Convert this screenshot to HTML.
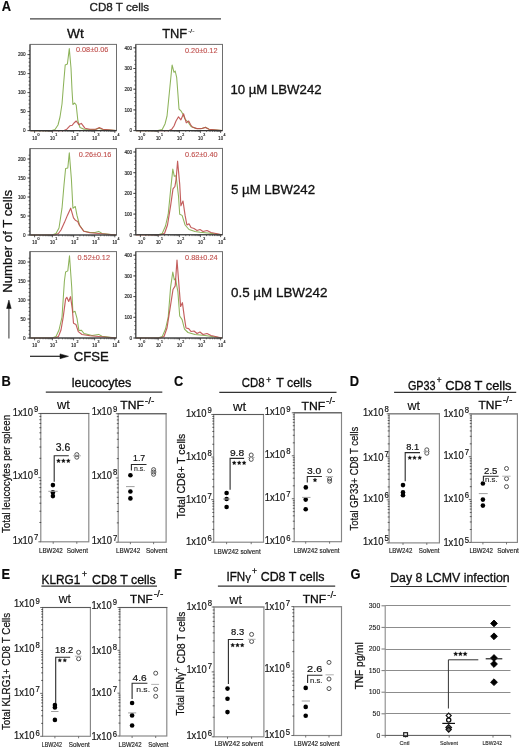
<!DOCTYPE html>
<html><head><meta charset="utf-8"><style>
html,body{margin:0;padding:0;background:#fff;}
svg{display:block;filter:blur(0.3px);}
text{font-family:"Liberation Sans",sans-serif;}
</style></head><body>
<svg width="520" height="748" viewBox="0 0 520 748">
<rect width="520" height="748" fill="#fff"/>
<text transform="translate(1.80 10.70) scale(0.9 1)" font-size="14.3" font-weight="bold" fill="#0a0a0a" stroke="#0a0a0a" stroke-width="0.15">A</text>
<text x="89.50" y="10.60" font-size="11.8" fill="#222" stroke="#222" stroke-width="0.32" textLength="59.7" lengthAdjust="spacingAndGlyphs">CD8 T cells</text>
<line x1="30.00" y1="18.90" x2="221.00" y2="18.90" stroke="#444" stroke-width="1.3"/>
<text x="67.00" y="37.50" font-size="13.3" fill="#111" stroke="#111" stroke-width="0.32" textLength="16.8" lengthAdjust="spacingAndGlyphs">Wt</text>
<text x="162.20" y="37.90" font-size="12.9" fill="#111" stroke="#111" stroke-width="0.32" textLength="25" lengthAdjust="spacingAndGlyphs">TNF</text>
<text x="188.20" y="33.40" font-size="5.5" fill="#111" stroke="#111" stroke-width="0.15" textLength="6.2" lengthAdjust="spacingAndGlyphs">-/-</text>
<polyline points="30.5,130.6 52.0,130.6 55.0,129.5 58.0,125.0 60.0,117.0 62.0,104.0 63.5,85.0 65.2,65.0 67.4,64.0 69.3,48.6 71.0,68.0 72.0,90.0 72.9,104.5 74.7,103.0 76.2,105.0 77.9,121.0 80.0,127.5 84.0,129.3 95.0,129.4 99.0,128.2 102.0,129.3 116.0,130.6" fill="none" stroke="#8db35a" stroke-width="1.05" stroke-linejoin="round" opacity="1"/>
<polyline points="30.5,130.6 64.0,130.6 66.8,129.2 69.9,125.8 72.3,125.2 74.0,123.0 76.2,121.0 78.9,124.6 81.3,123.4 84.9,128.2 90.0,129.3 96.0,129.2 99.3,127.6 103.0,129.3 116.0,130.6" fill="none" stroke="#bd4d4b" stroke-width="1.15" stroke-linejoin="round" opacity="0.9"/>
<rect x="30" y="44.4" width="86.50" height="86.20" fill="none" stroke="#6e6e6e" stroke-width="1"/>
<line x1="30.00" y1="130.60" x2="116.50" y2="130.60" stroke="#333" stroke-width="1.1"/>
<line x1="30.00" y1="44.40" x2="30.00" y2="130.60" stroke="#444" stroke-width="1.05"/>
<line x1="27.40" y1="130.60" x2="30.00" y2="130.60" stroke="#333" stroke-width="0.8"/>
<text x="23.10" y="132.40" font-size="4.7" fill="#222" stroke="#222" stroke-width="0.15" textLength="2.6" lengthAdjust="spacingAndGlyphs">0</text>
<line x1="27.40" y1="111.60" x2="30.00" y2="111.60" stroke="#333" stroke-width="0.8"/>
<text x="20.50" y="113.40" font-size="4.7" fill="#222" stroke="#222" stroke-width="0.15" textLength="5.2" lengthAdjust="spacingAndGlyphs">50</text>
<line x1="27.40" y1="92.60" x2="30.00" y2="92.60" stroke="#333" stroke-width="0.8"/>
<text x="17.90" y="94.40" font-size="4.7" fill="#222" stroke="#222" stroke-width="0.15" textLength="7.800000000000001" lengthAdjust="spacingAndGlyphs">100</text>
<line x1="27.40" y1="73.60" x2="30.00" y2="73.60" stroke="#333" stroke-width="0.8"/>
<text x="17.90" y="75.40" font-size="4.7" fill="#222" stroke="#222" stroke-width="0.15" textLength="7.800000000000001" lengthAdjust="spacingAndGlyphs">150</text>
<line x1="27.40" y1="54.60" x2="30.00" y2="54.60" stroke="#333" stroke-width="0.8"/>
<text x="17.90" y="56.40" font-size="4.7" fill="#222" stroke="#222" stroke-width="0.15" textLength="7.800000000000001" lengthAdjust="spacingAndGlyphs">200</text>
<line x1="28.60" y1="130.60" x2="30.00" y2="130.60" stroke="#333" stroke-width="0.8"/>
<line x1="28.60" y1="126.80" x2="30.00" y2="126.80" stroke="#333" stroke-width="0.8"/>
<line x1="28.60" y1="123.00" x2="30.00" y2="123.00" stroke="#333" stroke-width="0.8"/>
<line x1="28.60" y1="119.20" x2="30.00" y2="119.20" stroke="#333" stroke-width="0.8"/>
<line x1="28.60" y1="115.40" x2="30.00" y2="115.40" stroke="#333" stroke-width="0.8"/>
<line x1="28.60" y1="111.60" x2="30.00" y2="111.60" stroke="#333" stroke-width="0.8"/>
<line x1="28.60" y1="107.80" x2="30.00" y2="107.80" stroke="#333" stroke-width="0.8"/>
<line x1="28.60" y1="104.00" x2="30.00" y2="104.00" stroke="#333" stroke-width="0.8"/>
<line x1="28.60" y1="100.20" x2="30.00" y2="100.20" stroke="#333" stroke-width="0.8"/>
<line x1="28.60" y1="96.40" x2="30.00" y2="96.40" stroke="#333" stroke-width="0.8"/>
<line x1="28.60" y1="92.60" x2="30.00" y2="92.60" stroke="#333" stroke-width="0.8"/>
<line x1="28.60" y1="88.80" x2="30.00" y2="88.80" stroke="#333" stroke-width="0.8"/>
<line x1="28.60" y1="85.00" x2="30.00" y2="85.00" stroke="#333" stroke-width="0.8"/>
<line x1="28.60" y1="81.20" x2="30.00" y2="81.20" stroke="#333" stroke-width="0.8"/>
<line x1="28.60" y1="77.40" x2="30.00" y2="77.40" stroke="#333" stroke-width="0.8"/>
<line x1="28.60" y1="73.60" x2="30.00" y2="73.60" stroke="#333" stroke-width="0.8"/>
<line x1="28.60" y1="69.80" x2="30.00" y2="69.80" stroke="#333" stroke-width="0.8"/>
<line x1="28.60" y1="66.00" x2="30.00" y2="66.00" stroke="#333" stroke-width="0.8"/>
<line x1="28.60" y1="62.20" x2="30.00" y2="62.20" stroke="#333" stroke-width="0.8"/>
<line x1="28.60" y1="58.40" x2="30.00" y2="58.40" stroke="#333" stroke-width="0.8"/>
<line x1="28.60" y1="54.60" x2="30.00" y2="54.60" stroke="#333" stroke-width="0.8"/>
<line x1="28.60" y1="50.80" x2="30.00" y2="50.80" stroke="#333" stroke-width="0.8"/>
<line x1="34.60" y1="130.60" x2="34.60" y2="132.90" stroke="#333" stroke-width="0.8"/>
<text x="32.30" y="140.00" font-size="5.2" fill="#222" stroke="#222" stroke-width="0.18" textLength="4.7" lengthAdjust="spacingAndGlyphs">10</text>
<text x="37.40" y="136.00" font-size="4.0" fill="#222" stroke="#222" stroke-width="0.2" textLength="2.0" lengthAdjust="spacingAndGlyphs">0</text>
<line x1="39.96" y1="130.60" x2="39.96" y2="131.90" stroke="#444" stroke-width="0.7"/>
<line x1="43.09" y1="130.60" x2="43.09" y2="131.90" stroke="#444" stroke-width="0.7"/>
<line x1="45.32" y1="130.60" x2="45.32" y2="131.90" stroke="#444" stroke-width="0.7"/>
<line x1="47.04" y1="130.60" x2="47.04" y2="131.90" stroke="#444" stroke-width="0.7"/>
<line x1="48.45" y1="130.60" x2="48.45" y2="131.90" stroke="#444" stroke-width="0.7"/>
<line x1="49.64" y1="130.60" x2="49.64" y2="131.90" stroke="#444" stroke-width="0.7"/>
<line x1="50.68" y1="130.60" x2="50.68" y2="131.90" stroke="#444" stroke-width="0.7"/>
<line x1="51.59" y1="130.60" x2="51.59" y2="131.90" stroke="#444" stroke-width="0.7"/>
<line x1="52.40" y1="130.60" x2="52.40" y2="132.90" stroke="#333" stroke-width="0.8"/>
<text x="50.10" y="140.00" font-size="5.2" fill="#222" stroke="#222" stroke-width="0.18" textLength="4.7" lengthAdjust="spacingAndGlyphs">10</text>
<text x="55.20" y="136.00" font-size="4.0" fill="#222" stroke="#222" stroke-width="0.2" textLength="2.0" lengthAdjust="spacingAndGlyphs">1</text>
<line x1="58.78" y1="130.60" x2="58.78" y2="131.90" stroke="#444" stroke-width="0.7"/>
<line x1="62.51" y1="130.60" x2="62.51" y2="131.90" stroke="#444" stroke-width="0.7"/>
<line x1="65.16" y1="130.60" x2="65.16" y2="131.90" stroke="#444" stroke-width="0.7"/>
<line x1="67.22" y1="130.60" x2="67.22" y2="131.90" stroke="#444" stroke-width="0.7"/>
<line x1="68.90" y1="130.60" x2="68.90" y2="131.90" stroke="#444" stroke-width="0.7"/>
<line x1="70.32" y1="130.60" x2="70.32" y2="131.90" stroke="#444" stroke-width="0.7"/>
<line x1="71.55" y1="130.60" x2="71.55" y2="131.90" stroke="#444" stroke-width="0.7"/>
<line x1="72.63" y1="130.60" x2="72.63" y2="131.90" stroke="#444" stroke-width="0.7"/>
<line x1="73.60" y1="130.60" x2="73.60" y2="132.90" stroke="#333" stroke-width="0.8"/>
<text x="71.30" y="140.00" font-size="5.2" fill="#222" stroke="#222" stroke-width="0.18" textLength="4.7" lengthAdjust="spacingAndGlyphs">10</text>
<text x="76.40" y="136.00" font-size="4.0" fill="#222" stroke="#222" stroke-width="0.2" textLength="2.0" lengthAdjust="spacingAndGlyphs">2</text>
<line x1="79.92" y1="130.60" x2="79.92" y2="131.90" stroke="#444" stroke-width="0.7"/>
<line x1="83.62" y1="130.60" x2="83.62" y2="131.90" stroke="#444" stroke-width="0.7"/>
<line x1="86.24" y1="130.60" x2="86.24" y2="131.90" stroke="#444" stroke-width="0.7"/>
<line x1="88.28" y1="130.60" x2="88.28" y2="131.90" stroke="#444" stroke-width="0.7"/>
<line x1="89.94" y1="130.60" x2="89.94" y2="131.90" stroke="#444" stroke-width="0.7"/>
<line x1="91.35" y1="130.60" x2="91.35" y2="131.90" stroke="#444" stroke-width="0.7"/>
<line x1="92.56" y1="130.60" x2="92.56" y2="131.90" stroke="#444" stroke-width="0.7"/>
<line x1="93.64" y1="130.60" x2="93.64" y2="131.90" stroke="#444" stroke-width="0.7"/>
<line x1="94.60" y1="130.60" x2="94.60" y2="132.90" stroke="#333" stroke-width="0.8"/>
<text x="92.30" y="140.00" font-size="5.2" fill="#222" stroke="#222" stroke-width="0.18" textLength="4.7" lengthAdjust="spacingAndGlyphs">10</text>
<text x="97.40" y="136.00" font-size="4.0" fill="#222" stroke="#222" stroke-width="0.2" textLength="2.0" lengthAdjust="spacingAndGlyphs">3</text>
<line x1="100.68" y1="130.60" x2="100.68" y2="131.90" stroke="#444" stroke-width="0.7"/>
<line x1="104.24" y1="130.60" x2="104.24" y2="131.90" stroke="#444" stroke-width="0.7"/>
<line x1="106.76" y1="130.60" x2="106.76" y2="131.90" stroke="#444" stroke-width="0.7"/>
<line x1="108.72" y1="130.60" x2="108.72" y2="131.90" stroke="#444" stroke-width="0.7"/>
<line x1="110.32" y1="130.60" x2="110.32" y2="131.90" stroke="#444" stroke-width="0.7"/>
<line x1="111.67" y1="130.60" x2="111.67" y2="131.90" stroke="#444" stroke-width="0.7"/>
<line x1="112.84" y1="130.60" x2="112.84" y2="131.90" stroke="#444" stroke-width="0.7"/>
<line x1="113.88" y1="130.60" x2="113.88" y2="131.90" stroke="#444" stroke-width="0.7"/>
<line x1="114.80" y1="130.60" x2="114.80" y2="132.90" stroke="#333" stroke-width="0.8"/>
<text x="112.50" y="140.00" font-size="5.2" fill="#222" stroke="#222" stroke-width="0.18" textLength="4.7" lengthAdjust="spacingAndGlyphs">10</text>
<text x="117.60" y="136.00" font-size="4.0" fill="#222" stroke="#222" stroke-width="0.2" textLength="2.0" lengthAdjust="spacingAndGlyphs">4</text>
<text x="75.90" y="52.10" font-size="7.4" fill="#c0504d" stroke="#c0504d" stroke-width="0.12" textLength="32.5" lengthAdjust="spacingAndGlyphs">0.08±0.06</text>
<polyline points="135.9,130.6 158.0,130.6 162.2,129.5 165.0,124.0 167.0,116.2 170.0,86.0 172.1,65.0 174.0,72.3 175.2,71.0 176.7,77.7 178.0,95.0 179.0,109.0 180.9,110.8 182.7,113.8 185.0,119.0 188.0,122.0 191.0,126.5 196.0,128.5 201.0,128.8 205.5,127.3 209.0,129.3 222.0,130.6" fill="none" stroke="#8db35a" stroke-width="1.05" stroke-linejoin="round" opacity="1"/>
<polyline points="135.9,130.6 169.0,130.6 171.8,129.2 174.0,126.0 176.0,121.0 178.5,116.8 180.9,119.8 183.6,113.8 186.3,122.8 188.7,121.0 190.5,124.5 192.3,127.0 197.0,128.6 202.0,128.5 205.5,127.4 209.0,129.3 222.0,130.6" fill="none" stroke="#bd4d4b" stroke-width="1.15" stroke-linejoin="round" opacity="0.9"/>
<rect x="135.8" y="44.4" width="86.70" height="86.20" fill="none" stroke="#6e6e6e" stroke-width="1"/>
<line x1="135.80" y1="130.60" x2="222.50" y2="130.60" stroke="#333" stroke-width="1.1"/>
<line x1="135.80" y1="44.40" x2="135.80" y2="130.60" stroke="#444" stroke-width="1.05"/>
<line x1="133.20" y1="130.60" x2="135.80" y2="130.60" stroke="#333" stroke-width="0.8"/>
<text x="129.60" y="132.40" font-size="4.7" fill="#222" stroke="#222" stroke-width="0.15" textLength="2.6" lengthAdjust="spacingAndGlyphs">0</text>
<line x1="133.20" y1="109.90" x2="135.80" y2="109.90" stroke="#333" stroke-width="0.8"/>
<text x="124.40" y="111.70" font-size="4.7" fill="#222" stroke="#222" stroke-width="0.15" textLength="7.800000000000001" lengthAdjust="spacingAndGlyphs">100</text>
<line x1="133.20" y1="89.20" x2="135.80" y2="89.20" stroke="#333" stroke-width="0.8"/>
<text x="124.40" y="91.00" font-size="4.7" fill="#222" stroke="#222" stroke-width="0.15" textLength="7.800000000000001" lengthAdjust="spacingAndGlyphs">200</text>
<line x1="133.20" y1="68.50" x2="135.80" y2="68.50" stroke="#333" stroke-width="0.8"/>
<text x="124.40" y="70.30" font-size="4.7" fill="#222" stroke="#222" stroke-width="0.15" textLength="7.800000000000001" lengthAdjust="spacingAndGlyphs">300</text>
<line x1="133.20" y1="47.80" x2="135.80" y2="47.80" stroke="#333" stroke-width="0.8"/>
<text x="124.40" y="49.60" font-size="4.7" fill="#222" stroke="#222" stroke-width="0.15" textLength="7.800000000000001" lengthAdjust="spacingAndGlyphs">400</text>
<line x1="134.40" y1="130.60" x2="135.80" y2="130.60" stroke="#333" stroke-width="0.8"/>
<line x1="134.40" y1="126.46" x2="135.80" y2="126.46" stroke="#333" stroke-width="0.8"/>
<line x1="134.40" y1="122.32" x2="135.80" y2="122.32" stroke="#333" stroke-width="0.8"/>
<line x1="134.40" y1="118.18" x2="135.80" y2="118.18" stroke="#333" stroke-width="0.8"/>
<line x1="134.40" y1="114.04" x2="135.80" y2="114.04" stroke="#333" stroke-width="0.8"/>
<line x1="134.40" y1="109.90" x2="135.80" y2="109.90" stroke="#333" stroke-width="0.8"/>
<line x1="134.40" y1="105.76" x2="135.80" y2="105.76" stroke="#333" stroke-width="0.8"/>
<line x1="134.40" y1="101.62" x2="135.80" y2="101.62" stroke="#333" stroke-width="0.8"/>
<line x1="134.40" y1="97.48" x2="135.80" y2="97.48" stroke="#333" stroke-width="0.8"/>
<line x1="134.40" y1="93.34" x2="135.80" y2="93.34" stroke="#333" stroke-width="0.8"/>
<line x1="134.40" y1="89.20" x2="135.80" y2="89.20" stroke="#333" stroke-width="0.8"/>
<line x1="134.40" y1="85.06" x2="135.80" y2="85.06" stroke="#333" stroke-width="0.8"/>
<line x1="134.40" y1="80.92" x2="135.80" y2="80.92" stroke="#333" stroke-width="0.8"/>
<line x1="134.40" y1="76.78" x2="135.80" y2="76.78" stroke="#333" stroke-width="0.8"/>
<line x1="134.40" y1="72.64" x2="135.80" y2="72.64" stroke="#333" stroke-width="0.8"/>
<line x1="134.40" y1="68.50" x2="135.80" y2="68.50" stroke="#333" stroke-width="0.8"/>
<line x1="134.40" y1="64.36" x2="135.80" y2="64.36" stroke="#333" stroke-width="0.8"/>
<line x1="134.40" y1="60.22" x2="135.80" y2="60.22" stroke="#333" stroke-width="0.8"/>
<line x1="134.40" y1="56.08" x2="135.80" y2="56.08" stroke="#333" stroke-width="0.8"/>
<line x1="134.40" y1="51.94" x2="135.80" y2="51.94" stroke="#333" stroke-width="0.8"/>
<line x1="134.40" y1="47.80" x2="135.80" y2="47.80" stroke="#333" stroke-width="0.8"/>
<line x1="140.40" y1="130.60" x2="140.40" y2="132.90" stroke="#333" stroke-width="0.8"/>
<text x="138.10" y="140.00" font-size="5.2" fill="#222" stroke="#222" stroke-width="0.18" textLength="4.7" lengthAdjust="spacingAndGlyphs">10</text>
<text x="143.20" y="136.00" font-size="4.0" fill="#222" stroke="#222" stroke-width="0.2" textLength="2.0" lengthAdjust="spacingAndGlyphs">0</text>
<line x1="145.76" y1="130.60" x2="145.76" y2="131.90" stroke="#444" stroke-width="0.7"/>
<line x1="148.89" y1="130.60" x2="148.89" y2="131.90" stroke="#444" stroke-width="0.7"/>
<line x1="151.12" y1="130.60" x2="151.12" y2="131.90" stroke="#444" stroke-width="0.7"/>
<line x1="152.84" y1="130.60" x2="152.84" y2="131.90" stroke="#444" stroke-width="0.7"/>
<line x1="154.25" y1="130.60" x2="154.25" y2="131.90" stroke="#444" stroke-width="0.7"/>
<line x1="155.44" y1="130.60" x2="155.44" y2="131.90" stroke="#444" stroke-width="0.7"/>
<line x1="156.48" y1="130.60" x2="156.48" y2="131.90" stroke="#444" stroke-width="0.7"/>
<line x1="157.39" y1="130.60" x2="157.39" y2="131.90" stroke="#444" stroke-width="0.7"/>
<line x1="158.20" y1="130.60" x2="158.20" y2="132.90" stroke="#333" stroke-width="0.8"/>
<text x="155.90" y="140.00" font-size="5.2" fill="#222" stroke="#222" stroke-width="0.18" textLength="4.7" lengthAdjust="spacingAndGlyphs">10</text>
<text x="161.00" y="136.00" font-size="4.0" fill="#222" stroke="#222" stroke-width="0.2" textLength="2.0" lengthAdjust="spacingAndGlyphs">1</text>
<line x1="164.58" y1="130.60" x2="164.58" y2="131.90" stroke="#444" stroke-width="0.7"/>
<line x1="168.31" y1="130.60" x2="168.31" y2="131.90" stroke="#444" stroke-width="0.7"/>
<line x1="170.96" y1="130.60" x2="170.96" y2="131.90" stroke="#444" stroke-width="0.7"/>
<line x1="173.02" y1="130.60" x2="173.02" y2="131.90" stroke="#444" stroke-width="0.7"/>
<line x1="174.70" y1="130.60" x2="174.70" y2="131.90" stroke="#444" stroke-width="0.7"/>
<line x1="176.12" y1="130.60" x2="176.12" y2="131.90" stroke="#444" stroke-width="0.7"/>
<line x1="177.35" y1="130.60" x2="177.35" y2="131.90" stroke="#444" stroke-width="0.7"/>
<line x1="178.43" y1="130.60" x2="178.43" y2="131.90" stroke="#444" stroke-width="0.7"/>
<line x1="179.40" y1="130.60" x2="179.40" y2="132.90" stroke="#333" stroke-width="0.8"/>
<text x="177.10" y="140.00" font-size="5.2" fill="#222" stroke="#222" stroke-width="0.18" textLength="4.7" lengthAdjust="spacingAndGlyphs">10</text>
<text x="182.20" y="136.00" font-size="4.0" fill="#222" stroke="#222" stroke-width="0.2" textLength="2.0" lengthAdjust="spacingAndGlyphs">2</text>
<line x1="185.72" y1="130.60" x2="185.72" y2="131.90" stroke="#444" stroke-width="0.7"/>
<line x1="189.42" y1="130.60" x2="189.42" y2="131.90" stroke="#444" stroke-width="0.7"/>
<line x1="192.04" y1="130.60" x2="192.04" y2="131.90" stroke="#444" stroke-width="0.7"/>
<line x1="194.08" y1="130.60" x2="194.08" y2="131.90" stroke="#444" stroke-width="0.7"/>
<line x1="195.74" y1="130.60" x2="195.74" y2="131.90" stroke="#444" stroke-width="0.7"/>
<line x1="197.15" y1="130.60" x2="197.15" y2="131.90" stroke="#444" stroke-width="0.7"/>
<line x1="198.36" y1="130.60" x2="198.36" y2="131.90" stroke="#444" stroke-width="0.7"/>
<line x1="199.44" y1="130.60" x2="199.44" y2="131.90" stroke="#444" stroke-width="0.7"/>
<line x1="200.40" y1="130.60" x2="200.40" y2="132.90" stroke="#333" stroke-width="0.8"/>
<text x="198.10" y="140.00" font-size="5.2" fill="#222" stroke="#222" stroke-width="0.18" textLength="4.7" lengthAdjust="spacingAndGlyphs">10</text>
<text x="203.20" y="136.00" font-size="4.0" fill="#222" stroke="#222" stroke-width="0.2" textLength="2.0" lengthAdjust="spacingAndGlyphs">3</text>
<line x1="206.48" y1="130.60" x2="206.48" y2="131.90" stroke="#444" stroke-width="0.7"/>
<line x1="210.04" y1="130.60" x2="210.04" y2="131.90" stroke="#444" stroke-width="0.7"/>
<line x1="212.56" y1="130.60" x2="212.56" y2="131.90" stroke="#444" stroke-width="0.7"/>
<line x1="214.52" y1="130.60" x2="214.52" y2="131.90" stroke="#444" stroke-width="0.7"/>
<line x1="216.12" y1="130.60" x2="216.12" y2="131.90" stroke="#444" stroke-width="0.7"/>
<line x1="217.47" y1="130.60" x2="217.47" y2="131.90" stroke="#444" stroke-width="0.7"/>
<line x1="218.64" y1="130.60" x2="218.64" y2="131.90" stroke="#444" stroke-width="0.7"/>
<line x1="219.68" y1="130.60" x2="219.68" y2="131.90" stroke="#444" stroke-width="0.7"/>
<line x1="220.60" y1="130.60" x2="220.60" y2="132.90" stroke="#333" stroke-width="0.8"/>
<text x="218.30" y="140.00" font-size="5.2" fill="#222" stroke="#222" stroke-width="0.18" textLength="4.7" lengthAdjust="spacingAndGlyphs">10</text>
<text x="223.40" y="136.00" font-size="4.0" fill="#222" stroke="#222" stroke-width="0.2" textLength="2.0" lengthAdjust="spacingAndGlyphs">4</text>
<text x="185.00" y="53.00" font-size="7.4" fill="#c0504d" stroke="#c0504d" stroke-width="0.12" textLength="32.5" lengthAdjust="spacingAndGlyphs">0.20±0.12</text>
<polyline points="30.5,235.0 52.0,235.0 56.0,233.5 59.0,228.0 62.0,208.2 64.0,185.0 65.6,168.5 67.8,167.9 69.3,152.8 71.4,179.3 72.9,208.2 75.3,206.5 77.0,215.4 79.5,225.0 83.7,231.0 90.0,232.5 95.0,232.6 98.7,231.4 102.0,233.5 116.0,235.0" fill="none" stroke="#8db35a" stroke-width="1.05" stroke-linejoin="round" opacity="1"/>
<polyline points="30.5,235.0 55.0,235.0 58.4,233.5 61.0,230.0 64.4,222.6 67.4,215.4 70.7,208.2 73.5,217.8 75.3,220.2 77.7,221.4 79.5,225.5 83.7,231.2 90.0,232.7 116.0,235.0" fill="none" stroke="#bd4d4b" stroke-width="1.15" stroke-linejoin="round" opacity="0.9"/>
<rect x="30" y="148.6" width="86.50" height="86.40" fill="none" stroke="#6e6e6e" stroke-width="1"/>
<line x1="30.00" y1="235.00" x2="116.50" y2="235.00" stroke="#333" stroke-width="1.1"/>
<line x1="30.00" y1="148.60" x2="30.00" y2="235.00" stroke="#444" stroke-width="1.05"/>
<line x1="27.40" y1="235.00" x2="30.00" y2="235.00" stroke="#333" stroke-width="0.8"/>
<text x="23.10" y="236.80" font-size="4.7" fill="#222" stroke="#222" stroke-width="0.15" textLength="2.6" lengthAdjust="spacingAndGlyphs">0</text>
<line x1="27.40" y1="216.00" x2="30.00" y2="216.00" stroke="#333" stroke-width="0.8"/>
<text x="20.50" y="217.80" font-size="4.7" fill="#222" stroke="#222" stroke-width="0.15" textLength="5.2" lengthAdjust="spacingAndGlyphs">50</text>
<line x1="27.40" y1="197.00" x2="30.00" y2="197.00" stroke="#333" stroke-width="0.8"/>
<text x="17.90" y="198.80" font-size="4.7" fill="#222" stroke="#222" stroke-width="0.15" textLength="7.800000000000001" lengthAdjust="spacingAndGlyphs">100</text>
<line x1="27.40" y1="178.00" x2="30.00" y2="178.00" stroke="#333" stroke-width="0.8"/>
<text x="17.90" y="179.80" font-size="4.7" fill="#222" stroke="#222" stroke-width="0.15" textLength="7.800000000000001" lengthAdjust="spacingAndGlyphs">150</text>
<line x1="27.40" y1="159.00" x2="30.00" y2="159.00" stroke="#333" stroke-width="0.8"/>
<text x="17.90" y="160.80" font-size="4.7" fill="#222" stroke="#222" stroke-width="0.15" textLength="7.800000000000001" lengthAdjust="spacingAndGlyphs">200</text>
<line x1="28.60" y1="235.00" x2="30.00" y2="235.00" stroke="#333" stroke-width="0.8"/>
<line x1="28.60" y1="231.20" x2="30.00" y2="231.20" stroke="#333" stroke-width="0.8"/>
<line x1="28.60" y1="227.40" x2="30.00" y2="227.40" stroke="#333" stroke-width="0.8"/>
<line x1="28.60" y1="223.60" x2="30.00" y2="223.60" stroke="#333" stroke-width="0.8"/>
<line x1="28.60" y1="219.80" x2="30.00" y2="219.80" stroke="#333" stroke-width="0.8"/>
<line x1="28.60" y1="216.00" x2="30.00" y2="216.00" stroke="#333" stroke-width="0.8"/>
<line x1="28.60" y1="212.20" x2="30.00" y2="212.20" stroke="#333" stroke-width="0.8"/>
<line x1="28.60" y1="208.40" x2="30.00" y2="208.40" stroke="#333" stroke-width="0.8"/>
<line x1="28.60" y1="204.60" x2="30.00" y2="204.60" stroke="#333" stroke-width="0.8"/>
<line x1="28.60" y1="200.80" x2="30.00" y2="200.80" stroke="#333" stroke-width="0.8"/>
<line x1="28.60" y1="197.00" x2="30.00" y2="197.00" stroke="#333" stroke-width="0.8"/>
<line x1="28.60" y1="193.20" x2="30.00" y2="193.20" stroke="#333" stroke-width="0.8"/>
<line x1="28.60" y1="189.40" x2="30.00" y2="189.40" stroke="#333" stroke-width="0.8"/>
<line x1="28.60" y1="185.60" x2="30.00" y2="185.60" stroke="#333" stroke-width="0.8"/>
<line x1="28.60" y1="181.80" x2="30.00" y2="181.80" stroke="#333" stroke-width="0.8"/>
<line x1="28.60" y1="178.00" x2="30.00" y2="178.00" stroke="#333" stroke-width="0.8"/>
<line x1="28.60" y1="174.20" x2="30.00" y2="174.20" stroke="#333" stroke-width="0.8"/>
<line x1="28.60" y1="170.40" x2="30.00" y2="170.40" stroke="#333" stroke-width="0.8"/>
<line x1="28.60" y1="166.60" x2="30.00" y2="166.60" stroke="#333" stroke-width="0.8"/>
<line x1="28.60" y1="162.80" x2="30.00" y2="162.80" stroke="#333" stroke-width="0.8"/>
<line x1="28.60" y1="159.00" x2="30.00" y2="159.00" stroke="#333" stroke-width="0.8"/>
<line x1="28.60" y1="155.20" x2="30.00" y2="155.20" stroke="#333" stroke-width="0.8"/>
<line x1="34.60" y1="235.00" x2="34.60" y2="237.30" stroke="#333" stroke-width="0.8"/>
<text x="32.30" y="244.40" font-size="5.2" fill="#222" stroke="#222" stroke-width="0.18" textLength="4.7" lengthAdjust="spacingAndGlyphs">10</text>
<text x="37.40" y="240.40" font-size="4.0" fill="#222" stroke="#222" stroke-width="0.2" textLength="2.0" lengthAdjust="spacingAndGlyphs">0</text>
<line x1="39.96" y1="235.00" x2="39.96" y2="236.30" stroke="#444" stroke-width="0.7"/>
<line x1="43.09" y1="235.00" x2="43.09" y2="236.30" stroke="#444" stroke-width="0.7"/>
<line x1="45.32" y1="235.00" x2="45.32" y2="236.30" stroke="#444" stroke-width="0.7"/>
<line x1="47.04" y1="235.00" x2="47.04" y2="236.30" stroke="#444" stroke-width="0.7"/>
<line x1="48.45" y1="235.00" x2="48.45" y2="236.30" stroke="#444" stroke-width="0.7"/>
<line x1="49.64" y1="235.00" x2="49.64" y2="236.30" stroke="#444" stroke-width="0.7"/>
<line x1="50.68" y1="235.00" x2="50.68" y2="236.30" stroke="#444" stroke-width="0.7"/>
<line x1="51.59" y1="235.00" x2="51.59" y2="236.30" stroke="#444" stroke-width="0.7"/>
<line x1="52.40" y1="235.00" x2="52.40" y2="237.30" stroke="#333" stroke-width="0.8"/>
<text x="50.10" y="244.40" font-size="5.2" fill="#222" stroke="#222" stroke-width="0.18" textLength="4.7" lengthAdjust="spacingAndGlyphs">10</text>
<text x="55.20" y="240.40" font-size="4.0" fill="#222" stroke="#222" stroke-width="0.2" textLength="2.0" lengthAdjust="spacingAndGlyphs">1</text>
<line x1="58.78" y1="235.00" x2="58.78" y2="236.30" stroke="#444" stroke-width="0.7"/>
<line x1="62.51" y1="235.00" x2="62.51" y2="236.30" stroke="#444" stroke-width="0.7"/>
<line x1="65.16" y1="235.00" x2="65.16" y2="236.30" stroke="#444" stroke-width="0.7"/>
<line x1="67.22" y1="235.00" x2="67.22" y2="236.30" stroke="#444" stroke-width="0.7"/>
<line x1="68.90" y1="235.00" x2="68.90" y2="236.30" stroke="#444" stroke-width="0.7"/>
<line x1="70.32" y1="235.00" x2="70.32" y2="236.30" stroke="#444" stroke-width="0.7"/>
<line x1="71.55" y1="235.00" x2="71.55" y2="236.30" stroke="#444" stroke-width="0.7"/>
<line x1="72.63" y1="235.00" x2="72.63" y2="236.30" stroke="#444" stroke-width="0.7"/>
<line x1="73.60" y1="235.00" x2="73.60" y2="237.30" stroke="#333" stroke-width="0.8"/>
<text x="71.30" y="244.40" font-size="5.2" fill="#222" stroke="#222" stroke-width="0.18" textLength="4.7" lengthAdjust="spacingAndGlyphs">10</text>
<text x="76.40" y="240.40" font-size="4.0" fill="#222" stroke="#222" stroke-width="0.2" textLength="2.0" lengthAdjust="spacingAndGlyphs">2</text>
<line x1="79.92" y1="235.00" x2="79.92" y2="236.30" stroke="#444" stroke-width="0.7"/>
<line x1="83.62" y1="235.00" x2="83.62" y2="236.30" stroke="#444" stroke-width="0.7"/>
<line x1="86.24" y1="235.00" x2="86.24" y2="236.30" stroke="#444" stroke-width="0.7"/>
<line x1="88.28" y1="235.00" x2="88.28" y2="236.30" stroke="#444" stroke-width="0.7"/>
<line x1="89.94" y1="235.00" x2="89.94" y2="236.30" stroke="#444" stroke-width="0.7"/>
<line x1="91.35" y1="235.00" x2="91.35" y2="236.30" stroke="#444" stroke-width="0.7"/>
<line x1="92.56" y1="235.00" x2="92.56" y2="236.30" stroke="#444" stroke-width="0.7"/>
<line x1="93.64" y1="235.00" x2="93.64" y2="236.30" stroke="#444" stroke-width="0.7"/>
<line x1="94.60" y1="235.00" x2="94.60" y2="237.30" stroke="#333" stroke-width="0.8"/>
<text x="92.30" y="244.40" font-size="5.2" fill="#222" stroke="#222" stroke-width="0.18" textLength="4.7" lengthAdjust="spacingAndGlyphs">10</text>
<text x="97.40" y="240.40" font-size="4.0" fill="#222" stroke="#222" stroke-width="0.2" textLength="2.0" lengthAdjust="spacingAndGlyphs">3</text>
<line x1="100.68" y1="235.00" x2="100.68" y2="236.30" stroke="#444" stroke-width="0.7"/>
<line x1="104.24" y1="235.00" x2="104.24" y2="236.30" stroke="#444" stroke-width="0.7"/>
<line x1="106.76" y1="235.00" x2="106.76" y2="236.30" stroke="#444" stroke-width="0.7"/>
<line x1="108.72" y1="235.00" x2="108.72" y2="236.30" stroke="#444" stroke-width="0.7"/>
<line x1="110.32" y1="235.00" x2="110.32" y2="236.30" stroke="#444" stroke-width="0.7"/>
<line x1="111.67" y1="235.00" x2="111.67" y2="236.30" stroke="#444" stroke-width="0.7"/>
<line x1="112.84" y1="235.00" x2="112.84" y2="236.30" stroke="#444" stroke-width="0.7"/>
<line x1="113.88" y1="235.00" x2="113.88" y2="236.30" stroke="#444" stroke-width="0.7"/>
<line x1="114.80" y1="235.00" x2="114.80" y2="237.30" stroke="#333" stroke-width="0.8"/>
<text x="112.50" y="244.40" font-size="5.2" fill="#222" stroke="#222" stroke-width="0.18" textLength="4.7" lengthAdjust="spacingAndGlyphs">10</text>
<text x="117.60" y="240.40" font-size="4.0" fill="#222" stroke="#222" stroke-width="0.2" textLength="2.0" lengthAdjust="spacingAndGlyphs">4</text>
<text x="78.80" y="156.50" font-size="7.4" fill="#c0504d" stroke="#c0504d" stroke-width="0.12" textLength="32.5" lengthAdjust="spacingAndGlyphs">0.26±0.16</text>
<polyline points="135.9,234.8 158.0,234.8 162.2,233.5 165.5,226.0 168.2,214.2 170.6,190.1 172.8,169.0 174.3,176.3 176.1,175.7 178.5,196.1 179.7,214.2 182.1,215.4 185.1,225.0 189.0,229.5 195.0,231.5 200.0,232.2 210.0,233.2 222.0,234.8" fill="none" stroke="#8db35a" stroke-width="1.05" stroke-linejoin="round" opacity="1"/>
<polyline points="135.9,234.8 161.0,234.8 164.6,233.3 167.5,225.0 170.6,205.8 173.0,188.9 174.9,186.5 176.1,179.3 177.6,161.2 179.7,184.1 180.9,205.8 183.0,201.0 185.1,215.4 186.9,225.0 189.0,223.8 191.0,227.5 194.0,228.5 197.0,230.5 200.0,229.5 203.0,231.5 207.0,230.5 211.0,232.5 222.0,234.8" fill="none" stroke="#bd4d4b" stroke-width="1.15" stroke-linejoin="round" opacity="0.9"/>
<rect x="135.8" y="148.4" width="86.70" height="86.40" fill="none" stroke="#6e6e6e" stroke-width="1"/>
<line x1="135.80" y1="234.80" x2="222.50" y2="234.80" stroke="#333" stroke-width="1.1"/>
<line x1="135.80" y1="148.40" x2="135.80" y2="234.80" stroke="#444" stroke-width="1.05"/>
<line x1="133.20" y1="234.80" x2="135.80" y2="234.80" stroke="#333" stroke-width="0.8"/>
<text x="129.60" y="236.60" font-size="4.7" fill="#222" stroke="#222" stroke-width="0.15" textLength="2.6" lengthAdjust="spacingAndGlyphs">0</text>
<line x1="133.20" y1="214.10" x2="135.80" y2="214.10" stroke="#333" stroke-width="0.8"/>
<text x="124.40" y="215.90" font-size="4.7" fill="#222" stroke="#222" stroke-width="0.15" textLength="7.800000000000001" lengthAdjust="spacingAndGlyphs">100</text>
<line x1="133.20" y1="193.40" x2="135.80" y2="193.40" stroke="#333" stroke-width="0.8"/>
<text x="124.40" y="195.20" font-size="4.7" fill="#222" stroke="#222" stroke-width="0.15" textLength="7.800000000000001" lengthAdjust="spacingAndGlyphs">200</text>
<line x1="133.20" y1="172.70" x2="135.80" y2="172.70" stroke="#333" stroke-width="0.8"/>
<text x="124.40" y="174.50" font-size="4.7" fill="#222" stroke="#222" stroke-width="0.15" textLength="7.800000000000001" lengthAdjust="spacingAndGlyphs">300</text>
<line x1="133.20" y1="152.00" x2="135.80" y2="152.00" stroke="#333" stroke-width="0.8"/>
<text x="124.40" y="153.80" font-size="4.7" fill="#222" stroke="#222" stroke-width="0.15" textLength="7.800000000000001" lengthAdjust="spacingAndGlyphs">400</text>
<line x1="134.40" y1="234.80" x2="135.80" y2="234.80" stroke="#333" stroke-width="0.8"/>
<line x1="134.40" y1="230.66" x2="135.80" y2="230.66" stroke="#333" stroke-width="0.8"/>
<line x1="134.40" y1="226.52" x2="135.80" y2="226.52" stroke="#333" stroke-width="0.8"/>
<line x1="134.40" y1="222.38" x2="135.80" y2="222.38" stroke="#333" stroke-width="0.8"/>
<line x1="134.40" y1="218.24" x2="135.80" y2="218.24" stroke="#333" stroke-width="0.8"/>
<line x1="134.40" y1="214.10" x2="135.80" y2="214.10" stroke="#333" stroke-width="0.8"/>
<line x1="134.40" y1="209.96" x2="135.80" y2="209.96" stroke="#333" stroke-width="0.8"/>
<line x1="134.40" y1="205.82" x2="135.80" y2="205.82" stroke="#333" stroke-width="0.8"/>
<line x1="134.40" y1="201.68" x2="135.80" y2="201.68" stroke="#333" stroke-width="0.8"/>
<line x1="134.40" y1="197.54" x2="135.80" y2="197.54" stroke="#333" stroke-width="0.8"/>
<line x1="134.40" y1="193.40" x2="135.80" y2="193.40" stroke="#333" stroke-width="0.8"/>
<line x1="134.40" y1="189.26" x2="135.80" y2="189.26" stroke="#333" stroke-width="0.8"/>
<line x1="134.40" y1="185.12" x2="135.80" y2="185.12" stroke="#333" stroke-width="0.8"/>
<line x1="134.40" y1="180.98" x2="135.80" y2="180.98" stroke="#333" stroke-width="0.8"/>
<line x1="134.40" y1="176.84" x2="135.80" y2="176.84" stroke="#333" stroke-width="0.8"/>
<line x1="134.40" y1="172.70" x2="135.80" y2="172.70" stroke="#333" stroke-width="0.8"/>
<line x1="134.40" y1="168.56" x2="135.80" y2="168.56" stroke="#333" stroke-width="0.8"/>
<line x1="134.40" y1="164.42" x2="135.80" y2="164.42" stroke="#333" stroke-width="0.8"/>
<line x1="134.40" y1="160.28" x2="135.80" y2="160.28" stroke="#333" stroke-width="0.8"/>
<line x1="134.40" y1="156.14" x2="135.80" y2="156.14" stroke="#333" stroke-width="0.8"/>
<line x1="134.40" y1="152.00" x2="135.80" y2="152.00" stroke="#333" stroke-width="0.8"/>
<line x1="140.40" y1="234.80" x2="140.40" y2="237.10" stroke="#333" stroke-width="0.8"/>
<text x="138.10" y="244.20" font-size="5.2" fill="#222" stroke="#222" stroke-width="0.18" textLength="4.7" lengthAdjust="spacingAndGlyphs">10</text>
<text x="143.20" y="240.20" font-size="4.0" fill="#222" stroke="#222" stroke-width="0.2" textLength="2.0" lengthAdjust="spacingAndGlyphs">0</text>
<line x1="145.76" y1="234.80" x2="145.76" y2="236.10" stroke="#444" stroke-width="0.7"/>
<line x1="148.89" y1="234.80" x2="148.89" y2="236.10" stroke="#444" stroke-width="0.7"/>
<line x1="151.12" y1="234.80" x2="151.12" y2="236.10" stroke="#444" stroke-width="0.7"/>
<line x1="152.84" y1="234.80" x2="152.84" y2="236.10" stroke="#444" stroke-width="0.7"/>
<line x1="154.25" y1="234.80" x2="154.25" y2="236.10" stroke="#444" stroke-width="0.7"/>
<line x1="155.44" y1="234.80" x2="155.44" y2="236.10" stroke="#444" stroke-width="0.7"/>
<line x1="156.48" y1="234.80" x2="156.48" y2="236.10" stroke="#444" stroke-width="0.7"/>
<line x1="157.39" y1="234.80" x2="157.39" y2="236.10" stroke="#444" stroke-width="0.7"/>
<line x1="158.20" y1="234.80" x2="158.20" y2="237.10" stroke="#333" stroke-width="0.8"/>
<text x="155.90" y="244.20" font-size="5.2" fill="#222" stroke="#222" stroke-width="0.18" textLength="4.7" lengthAdjust="spacingAndGlyphs">10</text>
<text x="161.00" y="240.20" font-size="4.0" fill="#222" stroke="#222" stroke-width="0.2" textLength="2.0" lengthAdjust="spacingAndGlyphs">1</text>
<line x1="164.58" y1="234.80" x2="164.58" y2="236.10" stroke="#444" stroke-width="0.7"/>
<line x1="168.31" y1="234.80" x2="168.31" y2="236.10" stroke="#444" stroke-width="0.7"/>
<line x1="170.96" y1="234.80" x2="170.96" y2="236.10" stroke="#444" stroke-width="0.7"/>
<line x1="173.02" y1="234.80" x2="173.02" y2="236.10" stroke="#444" stroke-width="0.7"/>
<line x1="174.70" y1="234.80" x2="174.70" y2="236.10" stroke="#444" stroke-width="0.7"/>
<line x1="176.12" y1="234.80" x2="176.12" y2="236.10" stroke="#444" stroke-width="0.7"/>
<line x1="177.35" y1="234.80" x2="177.35" y2="236.10" stroke="#444" stroke-width="0.7"/>
<line x1="178.43" y1="234.80" x2="178.43" y2="236.10" stroke="#444" stroke-width="0.7"/>
<line x1="179.40" y1="234.80" x2="179.40" y2="237.10" stroke="#333" stroke-width="0.8"/>
<text x="177.10" y="244.20" font-size="5.2" fill="#222" stroke="#222" stroke-width="0.18" textLength="4.7" lengthAdjust="spacingAndGlyphs">10</text>
<text x="182.20" y="240.20" font-size="4.0" fill="#222" stroke="#222" stroke-width="0.2" textLength="2.0" lengthAdjust="spacingAndGlyphs">2</text>
<line x1="185.72" y1="234.80" x2="185.72" y2="236.10" stroke="#444" stroke-width="0.7"/>
<line x1="189.42" y1="234.80" x2="189.42" y2="236.10" stroke="#444" stroke-width="0.7"/>
<line x1="192.04" y1="234.80" x2="192.04" y2="236.10" stroke="#444" stroke-width="0.7"/>
<line x1="194.08" y1="234.80" x2="194.08" y2="236.10" stroke="#444" stroke-width="0.7"/>
<line x1="195.74" y1="234.80" x2="195.74" y2="236.10" stroke="#444" stroke-width="0.7"/>
<line x1="197.15" y1="234.80" x2="197.15" y2="236.10" stroke="#444" stroke-width="0.7"/>
<line x1="198.36" y1="234.80" x2="198.36" y2="236.10" stroke="#444" stroke-width="0.7"/>
<line x1="199.44" y1="234.80" x2="199.44" y2="236.10" stroke="#444" stroke-width="0.7"/>
<line x1="200.40" y1="234.80" x2="200.40" y2="237.10" stroke="#333" stroke-width="0.8"/>
<text x="198.10" y="244.20" font-size="5.2" fill="#222" stroke="#222" stroke-width="0.18" textLength="4.7" lengthAdjust="spacingAndGlyphs">10</text>
<text x="203.20" y="240.20" font-size="4.0" fill="#222" stroke="#222" stroke-width="0.2" textLength="2.0" lengthAdjust="spacingAndGlyphs">3</text>
<line x1="206.48" y1="234.80" x2="206.48" y2="236.10" stroke="#444" stroke-width="0.7"/>
<line x1="210.04" y1="234.80" x2="210.04" y2="236.10" stroke="#444" stroke-width="0.7"/>
<line x1="212.56" y1="234.80" x2="212.56" y2="236.10" stroke="#444" stroke-width="0.7"/>
<line x1="214.52" y1="234.80" x2="214.52" y2="236.10" stroke="#444" stroke-width="0.7"/>
<line x1="216.12" y1="234.80" x2="216.12" y2="236.10" stroke="#444" stroke-width="0.7"/>
<line x1="217.47" y1="234.80" x2="217.47" y2="236.10" stroke="#444" stroke-width="0.7"/>
<line x1="218.64" y1="234.80" x2="218.64" y2="236.10" stroke="#444" stroke-width="0.7"/>
<line x1="219.68" y1="234.80" x2="219.68" y2="236.10" stroke="#444" stroke-width="0.7"/>
<line x1="220.60" y1="234.80" x2="220.60" y2="237.10" stroke="#333" stroke-width="0.8"/>
<text x="218.30" y="244.20" font-size="5.2" fill="#222" stroke="#222" stroke-width="0.18" textLength="4.7" lengthAdjust="spacingAndGlyphs">10</text>
<text x="223.40" y="240.20" font-size="4.0" fill="#222" stroke="#222" stroke-width="0.2" textLength="2.0" lengthAdjust="spacingAndGlyphs">4</text>
<text x="185.10" y="156.50" font-size="7.4" fill="#c0504d" stroke="#c0504d" stroke-width="0.12" textLength="32.5" lengthAdjust="spacingAndGlyphs">0.62±0.40</text>
<polyline points="30.5,338.0 52.0,338.0 56.0,336.5 59.0,330.0 62.0,317.2 64.4,281.0 65.6,272.0 67.8,270.9 69.5,255.8 71.7,287.0 72.9,312.4 75.0,311.2 77.0,318.4 78.9,330.4 81.3,330.2 84.0,333.5 92.0,335.5 98.7,334.4 102.0,336.3 116.0,338.0" fill="none" stroke="#8db35a" stroke-width="1.05" stroke-linejoin="round" opacity="1"/>
<polyline points="30.5,338.0 55.0,338.0 58.4,336.6 61.0,330.0 63.2,317.2 65.6,299.1 66.8,297.3 68.7,301.5 70.5,296.7 72.3,308.8 73.5,323.2 75.9,324.4 78.3,331.6 82.0,334.5 90.0,335.8 116.0,338.0" fill="none" stroke="#bd4d4b" stroke-width="1.15" stroke-linejoin="round" opacity="0.9"/>
<rect x="30" y="251.6" width="86.50" height="86.40" fill="none" stroke="#6e6e6e" stroke-width="1"/>
<line x1="30.00" y1="338.00" x2="116.50" y2="338.00" stroke="#333" stroke-width="1.1"/>
<line x1="30.00" y1="251.60" x2="30.00" y2="338.00" stroke="#444" stroke-width="1.05"/>
<line x1="27.40" y1="338.00" x2="30.00" y2="338.00" stroke="#333" stroke-width="0.8"/>
<text x="23.10" y="339.80" font-size="4.7" fill="#222" stroke="#222" stroke-width="0.15" textLength="2.6" lengthAdjust="spacingAndGlyphs">0</text>
<line x1="27.40" y1="319.00" x2="30.00" y2="319.00" stroke="#333" stroke-width="0.8"/>
<text x="20.50" y="320.80" font-size="4.7" fill="#222" stroke="#222" stroke-width="0.15" textLength="5.2" lengthAdjust="spacingAndGlyphs">50</text>
<line x1="27.40" y1="300.00" x2="30.00" y2="300.00" stroke="#333" stroke-width="0.8"/>
<text x="17.90" y="301.80" font-size="4.7" fill="#222" stroke="#222" stroke-width="0.15" textLength="7.800000000000001" lengthAdjust="spacingAndGlyphs">100</text>
<line x1="27.40" y1="281.00" x2="30.00" y2="281.00" stroke="#333" stroke-width="0.8"/>
<text x="17.90" y="282.80" font-size="4.7" fill="#222" stroke="#222" stroke-width="0.15" textLength="7.800000000000001" lengthAdjust="spacingAndGlyphs">150</text>
<line x1="27.40" y1="262.00" x2="30.00" y2="262.00" stroke="#333" stroke-width="0.8"/>
<text x="17.90" y="263.80" font-size="4.7" fill="#222" stroke="#222" stroke-width="0.15" textLength="7.800000000000001" lengthAdjust="spacingAndGlyphs">200</text>
<line x1="28.60" y1="338.00" x2="30.00" y2="338.00" stroke="#333" stroke-width="0.8"/>
<line x1="28.60" y1="334.20" x2="30.00" y2="334.20" stroke="#333" stroke-width="0.8"/>
<line x1="28.60" y1="330.40" x2="30.00" y2="330.40" stroke="#333" stroke-width="0.8"/>
<line x1="28.60" y1="326.60" x2="30.00" y2="326.60" stroke="#333" stroke-width="0.8"/>
<line x1="28.60" y1="322.80" x2="30.00" y2="322.80" stroke="#333" stroke-width="0.8"/>
<line x1="28.60" y1="319.00" x2="30.00" y2="319.00" stroke="#333" stroke-width="0.8"/>
<line x1="28.60" y1="315.20" x2="30.00" y2="315.20" stroke="#333" stroke-width="0.8"/>
<line x1="28.60" y1="311.40" x2="30.00" y2="311.40" stroke="#333" stroke-width="0.8"/>
<line x1="28.60" y1="307.60" x2="30.00" y2="307.60" stroke="#333" stroke-width="0.8"/>
<line x1="28.60" y1="303.80" x2="30.00" y2="303.80" stroke="#333" stroke-width="0.8"/>
<line x1="28.60" y1="300.00" x2="30.00" y2="300.00" stroke="#333" stroke-width="0.8"/>
<line x1="28.60" y1="296.20" x2="30.00" y2="296.20" stroke="#333" stroke-width="0.8"/>
<line x1="28.60" y1="292.40" x2="30.00" y2="292.40" stroke="#333" stroke-width="0.8"/>
<line x1="28.60" y1="288.60" x2="30.00" y2="288.60" stroke="#333" stroke-width="0.8"/>
<line x1="28.60" y1="284.80" x2="30.00" y2="284.80" stroke="#333" stroke-width="0.8"/>
<line x1="28.60" y1="281.00" x2="30.00" y2="281.00" stroke="#333" stroke-width="0.8"/>
<line x1="28.60" y1="277.20" x2="30.00" y2="277.20" stroke="#333" stroke-width="0.8"/>
<line x1="28.60" y1="273.40" x2="30.00" y2="273.40" stroke="#333" stroke-width="0.8"/>
<line x1="28.60" y1="269.60" x2="30.00" y2="269.60" stroke="#333" stroke-width="0.8"/>
<line x1="28.60" y1="265.80" x2="30.00" y2="265.80" stroke="#333" stroke-width="0.8"/>
<line x1="28.60" y1="262.00" x2="30.00" y2="262.00" stroke="#333" stroke-width="0.8"/>
<line x1="28.60" y1="258.20" x2="30.00" y2="258.20" stroke="#333" stroke-width="0.8"/>
<line x1="34.60" y1="338.00" x2="34.60" y2="340.30" stroke="#333" stroke-width="0.8"/>
<text x="32.30" y="347.40" font-size="5.2" fill="#222" stroke="#222" stroke-width="0.18" textLength="4.7" lengthAdjust="spacingAndGlyphs">10</text>
<text x="37.40" y="343.40" font-size="4.0" fill="#222" stroke="#222" stroke-width="0.2" textLength="2.0" lengthAdjust="spacingAndGlyphs">0</text>
<line x1="39.96" y1="338.00" x2="39.96" y2="339.30" stroke="#444" stroke-width="0.7"/>
<line x1="43.09" y1="338.00" x2="43.09" y2="339.30" stroke="#444" stroke-width="0.7"/>
<line x1="45.32" y1="338.00" x2="45.32" y2="339.30" stroke="#444" stroke-width="0.7"/>
<line x1="47.04" y1="338.00" x2="47.04" y2="339.30" stroke="#444" stroke-width="0.7"/>
<line x1="48.45" y1="338.00" x2="48.45" y2="339.30" stroke="#444" stroke-width="0.7"/>
<line x1="49.64" y1="338.00" x2="49.64" y2="339.30" stroke="#444" stroke-width="0.7"/>
<line x1="50.68" y1="338.00" x2="50.68" y2="339.30" stroke="#444" stroke-width="0.7"/>
<line x1="51.59" y1="338.00" x2="51.59" y2="339.30" stroke="#444" stroke-width="0.7"/>
<line x1="52.40" y1="338.00" x2="52.40" y2="340.30" stroke="#333" stroke-width="0.8"/>
<text x="50.10" y="347.40" font-size="5.2" fill="#222" stroke="#222" stroke-width="0.18" textLength="4.7" lengthAdjust="spacingAndGlyphs">10</text>
<text x="55.20" y="343.40" font-size="4.0" fill="#222" stroke="#222" stroke-width="0.2" textLength="2.0" lengthAdjust="spacingAndGlyphs">1</text>
<line x1="58.78" y1="338.00" x2="58.78" y2="339.30" stroke="#444" stroke-width="0.7"/>
<line x1="62.51" y1="338.00" x2="62.51" y2="339.30" stroke="#444" stroke-width="0.7"/>
<line x1="65.16" y1="338.00" x2="65.16" y2="339.30" stroke="#444" stroke-width="0.7"/>
<line x1="67.22" y1="338.00" x2="67.22" y2="339.30" stroke="#444" stroke-width="0.7"/>
<line x1="68.90" y1="338.00" x2="68.90" y2="339.30" stroke="#444" stroke-width="0.7"/>
<line x1="70.32" y1="338.00" x2="70.32" y2="339.30" stroke="#444" stroke-width="0.7"/>
<line x1="71.55" y1="338.00" x2="71.55" y2="339.30" stroke="#444" stroke-width="0.7"/>
<line x1="72.63" y1="338.00" x2="72.63" y2="339.30" stroke="#444" stroke-width="0.7"/>
<line x1="73.60" y1="338.00" x2="73.60" y2="340.30" stroke="#333" stroke-width="0.8"/>
<text x="71.30" y="347.40" font-size="5.2" fill="#222" stroke="#222" stroke-width="0.18" textLength="4.7" lengthAdjust="spacingAndGlyphs">10</text>
<text x="76.40" y="343.40" font-size="4.0" fill="#222" stroke="#222" stroke-width="0.2" textLength="2.0" lengthAdjust="spacingAndGlyphs">2</text>
<line x1="79.92" y1="338.00" x2="79.92" y2="339.30" stroke="#444" stroke-width="0.7"/>
<line x1="83.62" y1="338.00" x2="83.62" y2="339.30" stroke="#444" stroke-width="0.7"/>
<line x1="86.24" y1="338.00" x2="86.24" y2="339.30" stroke="#444" stroke-width="0.7"/>
<line x1="88.28" y1="338.00" x2="88.28" y2="339.30" stroke="#444" stroke-width="0.7"/>
<line x1="89.94" y1="338.00" x2="89.94" y2="339.30" stroke="#444" stroke-width="0.7"/>
<line x1="91.35" y1="338.00" x2="91.35" y2="339.30" stroke="#444" stroke-width="0.7"/>
<line x1="92.56" y1="338.00" x2="92.56" y2="339.30" stroke="#444" stroke-width="0.7"/>
<line x1="93.64" y1="338.00" x2="93.64" y2="339.30" stroke="#444" stroke-width="0.7"/>
<line x1="94.60" y1="338.00" x2="94.60" y2="340.30" stroke="#333" stroke-width="0.8"/>
<text x="92.30" y="347.40" font-size="5.2" fill="#222" stroke="#222" stroke-width="0.18" textLength="4.7" lengthAdjust="spacingAndGlyphs">10</text>
<text x="97.40" y="343.40" font-size="4.0" fill="#222" stroke="#222" stroke-width="0.2" textLength="2.0" lengthAdjust="spacingAndGlyphs">3</text>
<line x1="100.68" y1="338.00" x2="100.68" y2="339.30" stroke="#444" stroke-width="0.7"/>
<line x1="104.24" y1="338.00" x2="104.24" y2="339.30" stroke="#444" stroke-width="0.7"/>
<line x1="106.76" y1="338.00" x2="106.76" y2="339.30" stroke="#444" stroke-width="0.7"/>
<line x1="108.72" y1="338.00" x2="108.72" y2="339.30" stroke="#444" stroke-width="0.7"/>
<line x1="110.32" y1="338.00" x2="110.32" y2="339.30" stroke="#444" stroke-width="0.7"/>
<line x1="111.67" y1="338.00" x2="111.67" y2="339.30" stroke="#444" stroke-width="0.7"/>
<line x1="112.84" y1="338.00" x2="112.84" y2="339.30" stroke="#444" stroke-width="0.7"/>
<line x1="113.88" y1="338.00" x2="113.88" y2="339.30" stroke="#444" stroke-width="0.7"/>
<line x1="114.80" y1="338.00" x2="114.80" y2="340.30" stroke="#333" stroke-width="0.8"/>
<text x="112.50" y="347.40" font-size="5.2" fill="#222" stroke="#222" stroke-width="0.18" textLength="4.7" lengthAdjust="spacingAndGlyphs">10</text>
<text x="117.60" y="343.40" font-size="4.0" fill="#222" stroke="#222" stroke-width="0.2" textLength="2.0" lengthAdjust="spacingAndGlyphs">4</text>
<text x="77.50" y="260.10" font-size="7.4" fill="#c0504d" stroke="#c0504d" stroke-width="0.12" textLength="32.5" lengthAdjust="spacingAndGlyphs">0.52±0.12</text>
<polyline points="135.9,338.0 158.0,338.0 162.2,336.6 165.5,329.0 168.2,317.2 170.6,287.1 172.8,272.0 174.3,279.9 175.5,278.7 177.9,291.9 179.7,316.0 182.1,319.6 184.5,329.2 188.0,332.5 195.0,334.5 205.0,335.5 222.0,338.0" fill="none" stroke="#8db35a" stroke-width="1.05" stroke-linejoin="round" opacity="1"/>
<polyline points="135.9,338.0 160.5,338.0 164.0,336.5 167.0,328.0 170.0,308.8 173.0,289.5 175.2,285.9 177.0,260.0 179.1,287.1 180.6,306.4 182.4,302.7 184.5,318.4 186.0,328.0 188.7,328.6 191.0,331.5 194.0,331.0 197.0,333.5 200.0,332.0 203.0,334.5 207.0,333.5 211.0,335.5 222.0,338.0" fill="none" stroke="#bd4d4b" stroke-width="1.15" stroke-linejoin="round" opacity="0.9"/>
<rect x="135.8" y="251.65" width="86.70" height="86.35" fill="none" stroke="#6e6e6e" stroke-width="1"/>
<line x1="135.80" y1="338.00" x2="222.50" y2="338.00" stroke="#333" stroke-width="1.1"/>
<line x1="135.80" y1="251.65" x2="135.80" y2="338.00" stroke="#444" stroke-width="1.05"/>
<line x1="133.20" y1="338.00" x2="135.80" y2="338.00" stroke="#333" stroke-width="0.8"/>
<text x="129.60" y="339.80" font-size="4.7" fill="#222" stroke="#222" stroke-width="0.15" textLength="2.6" lengthAdjust="spacingAndGlyphs">0</text>
<line x1="133.20" y1="317.30" x2="135.80" y2="317.30" stroke="#333" stroke-width="0.8"/>
<text x="124.40" y="319.10" font-size="4.7" fill="#222" stroke="#222" stroke-width="0.15" textLength="7.800000000000001" lengthAdjust="spacingAndGlyphs">100</text>
<line x1="133.20" y1="296.60" x2="135.80" y2="296.60" stroke="#333" stroke-width="0.8"/>
<text x="124.40" y="298.40" font-size="4.7" fill="#222" stroke="#222" stroke-width="0.15" textLength="7.800000000000001" lengthAdjust="spacingAndGlyphs">200</text>
<line x1="133.20" y1="275.90" x2="135.80" y2="275.90" stroke="#333" stroke-width="0.8"/>
<text x="124.40" y="277.70" font-size="4.7" fill="#222" stroke="#222" stroke-width="0.15" textLength="7.800000000000001" lengthAdjust="spacingAndGlyphs">300</text>
<line x1="133.20" y1="255.20" x2="135.80" y2="255.20" stroke="#333" stroke-width="0.8"/>
<text x="124.40" y="257.00" font-size="4.7" fill="#222" stroke="#222" stroke-width="0.15" textLength="7.800000000000001" lengthAdjust="spacingAndGlyphs">400</text>
<line x1="134.40" y1="338.00" x2="135.80" y2="338.00" stroke="#333" stroke-width="0.8"/>
<line x1="134.40" y1="333.86" x2="135.80" y2="333.86" stroke="#333" stroke-width="0.8"/>
<line x1="134.40" y1="329.72" x2="135.80" y2="329.72" stroke="#333" stroke-width="0.8"/>
<line x1="134.40" y1="325.58" x2="135.80" y2="325.58" stroke="#333" stroke-width="0.8"/>
<line x1="134.40" y1="321.44" x2="135.80" y2="321.44" stroke="#333" stroke-width="0.8"/>
<line x1="134.40" y1="317.30" x2="135.80" y2="317.30" stroke="#333" stroke-width="0.8"/>
<line x1="134.40" y1="313.16" x2="135.80" y2="313.16" stroke="#333" stroke-width="0.8"/>
<line x1="134.40" y1="309.02" x2="135.80" y2="309.02" stroke="#333" stroke-width="0.8"/>
<line x1="134.40" y1="304.88" x2="135.80" y2="304.88" stroke="#333" stroke-width="0.8"/>
<line x1="134.40" y1="300.74" x2="135.80" y2="300.74" stroke="#333" stroke-width="0.8"/>
<line x1="134.40" y1="296.60" x2="135.80" y2="296.60" stroke="#333" stroke-width="0.8"/>
<line x1="134.40" y1="292.46" x2="135.80" y2="292.46" stroke="#333" stroke-width="0.8"/>
<line x1="134.40" y1="288.32" x2="135.80" y2="288.32" stroke="#333" stroke-width="0.8"/>
<line x1="134.40" y1="284.18" x2="135.80" y2="284.18" stroke="#333" stroke-width="0.8"/>
<line x1="134.40" y1="280.04" x2="135.80" y2="280.04" stroke="#333" stroke-width="0.8"/>
<line x1="134.40" y1="275.90" x2="135.80" y2="275.90" stroke="#333" stroke-width="0.8"/>
<line x1="134.40" y1="271.76" x2="135.80" y2="271.76" stroke="#333" stroke-width="0.8"/>
<line x1="134.40" y1="267.62" x2="135.80" y2="267.62" stroke="#333" stroke-width="0.8"/>
<line x1="134.40" y1="263.48" x2="135.80" y2="263.48" stroke="#333" stroke-width="0.8"/>
<line x1="134.40" y1="259.34" x2="135.80" y2="259.34" stroke="#333" stroke-width="0.8"/>
<line x1="134.40" y1="255.20" x2="135.80" y2="255.20" stroke="#333" stroke-width="0.8"/>
<line x1="140.40" y1="338.00" x2="140.40" y2="340.30" stroke="#333" stroke-width="0.8"/>
<text x="138.10" y="347.40" font-size="5.2" fill="#222" stroke="#222" stroke-width="0.18" textLength="4.7" lengthAdjust="spacingAndGlyphs">10</text>
<text x="143.20" y="343.40" font-size="4.0" fill="#222" stroke="#222" stroke-width="0.2" textLength="2.0" lengthAdjust="spacingAndGlyphs">0</text>
<line x1="145.76" y1="338.00" x2="145.76" y2="339.30" stroke="#444" stroke-width="0.7"/>
<line x1="148.89" y1="338.00" x2="148.89" y2="339.30" stroke="#444" stroke-width="0.7"/>
<line x1="151.12" y1="338.00" x2="151.12" y2="339.30" stroke="#444" stroke-width="0.7"/>
<line x1="152.84" y1="338.00" x2="152.84" y2="339.30" stroke="#444" stroke-width="0.7"/>
<line x1="154.25" y1="338.00" x2="154.25" y2="339.30" stroke="#444" stroke-width="0.7"/>
<line x1="155.44" y1="338.00" x2="155.44" y2="339.30" stroke="#444" stroke-width="0.7"/>
<line x1="156.48" y1="338.00" x2="156.48" y2="339.30" stroke="#444" stroke-width="0.7"/>
<line x1="157.39" y1="338.00" x2="157.39" y2="339.30" stroke="#444" stroke-width="0.7"/>
<line x1="158.20" y1="338.00" x2="158.20" y2="340.30" stroke="#333" stroke-width="0.8"/>
<text x="155.90" y="347.40" font-size="5.2" fill="#222" stroke="#222" stroke-width="0.18" textLength="4.7" lengthAdjust="spacingAndGlyphs">10</text>
<text x="161.00" y="343.40" font-size="4.0" fill="#222" stroke="#222" stroke-width="0.2" textLength="2.0" lengthAdjust="spacingAndGlyphs">1</text>
<line x1="164.58" y1="338.00" x2="164.58" y2="339.30" stroke="#444" stroke-width="0.7"/>
<line x1="168.31" y1="338.00" x2="168.31" y2="339.30" stroke="#444" stroke-width="0.7"/>
<line x1="170.96" y1="338.00" x2="170.96" y2="339.30" stroke="#444" stroke-width="0.7"/>
<line x1="173.02" y1="338.00" x2="173.02" y2="339.30" stroke="#444" stroke-width="0.7"/>
<line x1="174.70" y1="338.00" x2="174.70" y2="339.30" stroke="#444" stroke-width="0.7"/>
<line x1="176.12" y1="338.00" x2="176.12" y2="339.30" stroke="#444" stroke-width="0.7"/>
<line x1="177.35" y1="338.00" x2="177.35" y2="339.30" stroke="#444" stroke-width="0.7"/>
<line x1="178.43" y1="338.00" x2="178.43" y2="339.30" stroke="#444" stroke-width="0.7"/>
<line x1="179.40" y1="338.00" x2="179.40" y2="340.30" stroke="#333" stroke-width="0.8"/>
<text x="177.10" y="347.40" font-size="5.2" fill="#222" stroke="#222" stroke-width="0.18" textLength="4.7" lengthAdjust="spacingAndGlyphs">10</text>
<text x="182.20" y="343.40" font-size="4.0" fill="#222" stroke="#222" stroke-width="0.2" textLength="2.0" lengthAdjust="spacingAndGlyphs">2</text>
<line x1="185.72" y1="338.00" x2="185.72" y2="339.30" stroke="#444" stroke-width="0.7"/>
<line x1="189.42" y1="338.00" x2="189.42" y2="339.30" stroke="#444" stroke-width="0.7"/>
<line x1="192.04" y1="338.00" x2="192.04" y2="339.30" stroke="#444" stroke-width="0.7"/>
<line x1="194.08" y1="338.00" x2="194.08" y2="339.30" stroke="#444" stroke-width="0.7"/>
<line x1="195.74" y1="338.00" x2="195.74" y2="339.30" stroke="#444" stroke-width="0.7"/>
<line x1="197.15" y1="338.00" x2="197.15" y2="339.30" stroke="#444" stroke-width="0.7"/>
<line x1="198.36" y1="338.00" x2="198.36" y2="339.30" stroke="#444" stroke-width="0.7"/>
<line x1="199.44" y1="338.00" x2="199.44" y2="339.30" stroke="#444" stroke-width="0.7"/>
<line x1="200.40" y1="338.00" x2="200.40" y2="340.30" stroke="#333" stroke-width="0.8"/>
<text x="198.10" y="347.40" font-size="5.2" fill="#222" stroke="#222" stroke-width="0.18" textLength="4.7" lengthAdjust="spacingAndGlyphs">10</text>
<text x="203.20" y="343.40" font-size="4.0" fill="#222" stroke="#222" stroke-width="0.2" textLength="2.0" lengthAdjust="spacingAndGlyphs">3</text>
<line x1="206.48" y1="338.00" x2="206.48" y2="339.30" stroke="#444" stroke-width="0.7"/>
<line x1="210.04" y1="338.00" x2="210.04" y2="339.30" stroke="#444" stroke-width="0.7"/>
<line x1="212.56" y1="338.00" x2="212.56" y2="339.30" stroke="#444" stroke-width="0.7"/>
<line x1="214.52" y1="338.00" x2="214.52" y2="339.30" stroke="#444" stroke-width="0.7"/>
<line x1="216.12" y1="338.00" x2="216.12" y2="339.30" stroke="#444" stroke-width="0.7"/>
<line x1="217.47" y1="338.00" x2="217.47" y2="339.30" stroke="#444" stroke-width="0.7"/>
<line x1="218.64" y1="338.00" x2="218.64" y2="339.30" stroke="#444" stroke-width="0.7"/>
<line x1="219.68" y1="338.00" x2="219.68" y2="339.30" stroke="#444" stroke-width="0.7"/>
<line x1="220.60" y1="338.00" x2="220.60" y2="340.30" stroke="#333" stroke-width="0.8"/>
<text x="218.30" y="347.40" font-size="5.2" fill="#222" stroke="#222" stroke-width="0.18" textLength="4.7" lengthAdjust="spacingAndGlyphs">10</text>
<text x="223.40" y="343.40" font-size="4.0" fill="#222" stroke="#222" stroke-width="0.2" textLength="2.0" lengthAdjust="spacingAndGlyphs">4</text>
<text x="185.10" y="259.50" font-size="7.4" fill="#c0504d" stroke="#c0504d" stroke-width="0.12" textLength="32.5" lengthAdjust="spacingAndGlyphs">0.88±0.24</text>
<text x="230.40" y="93.80" font-size="13.2" fill="#111" stroke="#111" stroke-width="0.32" textLength="91.2" lengthAdjust="spacingAndGlyphs">10 µM LBW242</text>
<text x="231.00" y="193.80" font-size="13.2" fill="#111" stroke="#111" stroke-width="0.32" textLength="84" lengthAdjust="spacingAndGlyphs">5 µM LBW242</text>
<text x="231.00" y="297.00" font-size="13.2" fill="#111" stroke="#111" stroke-width="0.32" textLength="96.4" lengthAdjust="spacingAndGlyphs">0.5 µM LBW242</text>
<text x="12.45" y="292.80" font-size="13" fill="#111" stroke="#111" stroke-width="0.25" textLength="103.0" lengthAdjust="spacingAndGlyphs" transform="rotate(-90 12.45 292.80)">Number of T cells</text>
<line x1="8.90" y1="307.00" x2="8.90" y2="338.60" stroke="#555" stroke-width="1.2"/>
<path d="M6.6,308.5 L8.9,300 L11.2,308.5 Z" stroke="#111" stroke-width="0.5" fill="#111"/>
<line x1="30.00" y1="356.30" x2="61.00" y2="356.30" stroke="#222" stroke-width="1.2"/>
<path d="M60,353.9 L68.5,356.3 L60,358.7 Z" stroke="#111" stroke-width="0.5" fill="#111"/>
<text x="73.80" y="360.50" font-size="13.2" fill="#111" stroke="#111" stroke-width="0.32" textLength="35" lengthAdjust="spacingAndGlyphs">CFSE</text>
<rect x="40.8" y="413.5" width="48.00" height="128.30" fill="none" stroke="#858585" stroke-width="1.15"/>
<line x1="40.30" y1="413.50" x2="89.30" y2="413.50" stroke="#5a5a5a" stroke-width="1.1"/>
<line x1="39.40" y1="458.34" x2="41.20" y2="458.34" stroke="#3a3a3a" stroke-width="0.8"/>
<line x1="39.40" y1="447.04" x2="41.20" y2="447.04" stroke="#3a3a3a" stroke-width="0.8"/>
<line x1="39.40" y1="439.03" x2="41.20" y2="439.03" stroke="#3a3a3a" stroke-width="0.8"/>
<line x1="39.40" y1="432.81" x2="41.20" y2="432.81" stroke="#3a3a3a" stroke-width="0.8"/>
<line x1="39.40" y1="427.73" x2="41.20" y2="427.73" stroke="#3a3a3a" stroke-width="0.8"/>
<line x1="39.40" y1="423.44" x2="41.20" y2="423.44" stroke="#3a3a3a" stroke-width="0.8"/>
<line x1="39.40" y1="419.72" x2="41.20" y2="419.72" stroke="#3a3a3a" stroke-width="0.8"/>
<line x1="39.40" y1="416.44" x2="41.20" y2="416.44" stroke="#3a3a3a" stroke-width="0.8"/>
<line x1="39.40" y1="522.49" x2="41.20" y2="522.49" stroke="#3a3a3a" stroke-width="0.8"/>
<line x1="39.40" y1="511.19" x2="41.20" y2="511.19" stroke="#3a3a3a" stroke-width="0.8"/>
<line x1="39.40" y1="503.18" x2="41.20" y2="503.18" stroke="#3a3a3a" stroke-width="0.8"/>
<line x1="39.40" y1="496.96" x2="41.20" y2="496.96" stroke="#3a3a3a" stroke-width="0.8"/>
<line x1="39.40" y1="491.88" x2="41.20" y2="491.88" stroke="#3a3a3a" stroke-width="0.8"/>
<line x1="39.40" y1="487.59" x2="41.20" y2="487.59" stroke="#3a3a3a" stroke-width="0.8"/>
<line x1="39.40" y1="483.87" x2="41.20" y2="483.87" stroke="#3a3a3a" stroke-width="0.8"/>
<line x1="39.40" y1="480.59" x2="41.20" y2="480.59" stroke="#3a3a3a" stroke-width="0.8"/>
<line x1="38.40" y1="413.50" x2="40.80" y2="413.50" stroke="#444" stroke-width="0.8"/>
<line x1="38.40" y1="477.65" x2="40.80" y2="477.65" stroke="#444" stroke-width="0.8"/>
<line x1="38.40" y1="541.80" x2="40.80" y2="541.80" stroke="#444" stroke-width="0.8"/>
<text x="12.70" y="415.60" font-size="10.4" fill="#151515" stroke="#151515" stroke-width="0.2" textLength="20.4" lengthAdjust="spacingAndGlyphs">1x10</text>
<text x="34.10" y="411.80" font-size="8.6" fill="#151515" stroke="#151515" stroke-width="0.2" textLength="4.3" lengthAdjust="spacingAndGlyphs">9</text>
<text x="12.70" y="479.20" font-size="10.4" fill="#151515" stroke="#151515" stroke-width="0.2" textLength="20.4" lengthAdjust="spacingAndGlyphs">1x10</text>
<text x="34.10" y="475.40" font-size="8.6" fill="#151515" stroke="#151515" stroke-width="0.2" textLength="4.3" lengthAdjust="spacingAndGlyphs">8</text>
<text x="12.70" y="543.90" font-size="10.4" fill="#151515" stroke="#151515" stroke-width="0.2" textLength="20.4" lengthAdjust="spacingAndGlyphs">1x10</text>
<text x="34.10" y="540.10" font-size="8.6" fill="#151515" stroke="#151515" stroke-width="0.2" textLength="4.3" lengthAdjust="spacingAndGlyphs">7</text>
<line x1="53.20" y1="541.80" x2="53.20" y2="543.80" stroke="#555" stroke-width="0.8"/>
<line x1="76.80" y1="541.80" x2="76.80" y2="543.80" stroke="#555" stroke-width="0.8"/>
<text x="39.00" y="552.60" font-size="6.3" fill="#222" stroke="#222" stroke-width="0.15" textLength="23.7" lengthAdjust="spacingAndGlyphs">LBW242</text>
<text x="66.70" y="552.60" font-size="6.3" fill="#222" stroke="#222" stroke-width="0.15" textLength="21.3" lengthAdjust="spacingAndGlyphs">Solvent</text>
<circle cx="52.90" cy="485.10" r="2.3" fill="#000"/>
<circle cx="52.90" cy="492.40" r="2.3" fill="#000"/>
<circle cx="52.90" cy="496.10" r="2.3" fill="#000"/>
<line x1="48.30" y1="491.30" x2="57.70" y2="491.30" stroke="#a0a0a0" stroke-width="1.0"/>
<circle cx="76.80" cy="454.60" r="2.0" fill="none" stroke="#4a4a4a" stroke-width="0.95"/>
<circle cx="76.80" cy="457.20" r="2.0" fill="none" stroke="#4a4a4a" stroke-width="0.95"/>
<line x1="72.90" y1="455.80" x2="81.00" y2="455.80" stroke="#a8a8a8" stroke-width="0.9"/>
<path d="M54.20,481.70 L54.20,455.80 L68.80,455.80" stroke="#2a2a2a" stroke-width="1.1" fill="none"/>
<text x="55.70" y="451.40" font-size="10.1" fill="#111" stroke="#111" stroke-width="0.2" textLength="14.5" lengthAdjust="spacingAndGlyphs">3.6</text>
<polygon points="58.50,458.75 59.11,460.07 60.54,460.24 59.48,461.22 59.76,462.64 58.50,461.93 57.24,462.64 57.52,461.22 56.46,460.24 57.89,460.07" fill="#111" stroke="#111" stroke-width="0.3"/>
<polygon points="63.40,458.75 64.01,460.07 65.44,460.24 64.38,461.22 64.66,462.64 63.40,461.93 62.14,462.64 62.42,461.22 61.36,460.24 62.79,460.07" fill="#111" stroke="#111" stroke-width="0.3"/>
<polygon points="68.30,458.75 68.91,460.07 70.34,460.24 69.28,461.22 69.56,462.64 68.30,461.93 67.04,462.64 67.32,461.22 66.26,460.24 67.69,460.07" fill="#111" stroke="#111" stroke-width="0.3"/>
<rect x="118.2" y="413.7" width="47.90" height="128.50" fill="none" stroke="#858585" stroke-width="1.15"/>
<line x1="117.70" y1="413.70" x2="166.60" y2="413.70" stroke="#5a5a5a" stroke-width="1.1"/>
<line x1="116.80" y1="458.61" x2="118.60" y2="458.61" stroke="#3a3a3a" stroke-width="0.8"/>
<line x1="116.80" y1="447.29" x2="118.60" y2="447.29" stroke="#3a3a3a" stroke-width="0.8"/>
<line x1="116.80" y1="439.27" x2="118.60" y2="439.27" stroke="#3a3a3a" stroke-width="0.8"/>
<line x1="116.80" y1="433.04" x2="118.60" y2="433.04" stroke="#3a3a3a" stroke-width="0.8"/>
<line x1="116.80" y1="427.95" x2="118.60" y2="427.95" stroke="#3a3a3a" stroke-width="0.8"/>
<line x1="116.80" y1="423.65" x2="118.60" y2="423.65" stroke="#3a3a3a" stroke-width="0.8"/>
<line x1="116.80" y1="419.93" x2="118.60" y2="419.93" stroke="#3a3a3a" stroke-width="0.8"/>
<line x1="116.80" y1="416.64" x2="118.60" y2="416.64" stroke="#3a3a3a" stroke-width="0.8"/>
<line x1="116.80" y1="522.86" x2="118.60" y2="522.86" stroke="#3a3a3a" stroke-width="0.8"/>
<line x1="116.80" y1="511.54" x2="118.60" y2="511.54" stroke="#3a3a3a" stroke-width="0.8"/>
<line x1="116.80" y1="503.52" x2="118.60" y2="503.52" stroke="#3a3a3a" stroke-width="0.8"/>
<line x1="116.80" y1="497.29" x2="118.60" y2="497.29" stroke="#3a3a3a" stroke-width="0.8"/>
<line x1="116.80" y1="492.20" x2="118.60" y2="492.20" stroke="#3a3a3a" stroke-width="0.8"/>
<line x1="116.80" y1="487.90" x2="118.60" y2="487.90" stroke="#3a3a3a" stroke-width="0.8"/>
<line x1="116.80" y1="484.18" x2="118.60" y2="484.18" stroke="#3a3a3a" stroke-width="0.8"/>
<line x1="116.80" y1="480.89" x2="118.60" y2="480.89" stroke="#3a3a3a" stroke-width="0.8"/>
<line x1="115.80" y1="413.70" x2="118.20" y2="413.70" stroke="#444" stroke-width="0.8"/>
<line x1="115.80" y1="477.95" x2="118.20" y2="477.95" stroke="#444" stroke-width="0.8"/>
<line x1="115.80" y1="542.20" x2="118.20" y2="542.20" stroke="#444" stroke-width="0.8"/>
<text x="91.70" y="415.40" font-size="10.4" fill="#151515" stroke="#151515" stroke-width="0.2" textLength="20.4" lengthAdjust="spacingAndGlyphs">1x10</text>
<text x="113.10" y="411.60" font-size="8.6" fill="#151515" stroke="#151515" stroke-width="0.2" textLength="4.3" lengthAdjust="spacingAndGlyphs">9</text>
<text x="91.70" y="479.10" font-size="10.4" fill="#151515" stroke="#151515" stroke-width="0.2" textLength="20.4" lengthAdjust="spacingAndGlyphs">1x10</text>
<text x="113.10" y="475.30" font-size="8.6" fill="#151515" stroke="#151515" stroke-width="0.2" textLength="4.3" lengthAdjust="spacingAndGlyphs">8</text>
<text x="91.70" y="544.30" font-size="10.4" fill="#151515" stroke="#151515" stroke-width="0.2" textLength="20.4" lengthAdjust="spacingAndGlyphs">1x10</text>
<text x="113.10" y="540.50" font-size="8.6" fill="#151515" stroke="#151515" stroke-width="0.2" textLength="4.3" lengthAdjust="spacingAndGlyphs">7</text>
<line x1="130.40" y1="542.20" x2="130.40" y2="544.20" stroke="#555" stroke-width="0.8"/>
<line x1="153.60" y1="542.20" x2="153.60" y2="544.20" stroke="#555" stroke-width="0.8"/>
<text x="116.00" y="552.80" font-size="6.3" fill="#222" stroke="#222" stroke-width="0.15" textLength="24.2" lengthAdjust="spacingAndGlyphs">LBW242</text>
<text x="146.00" y="552.80" font-size="6.3" fill="#222" stroke="#222" stroke-width="0.15" textLength="21.4" lengthAdjust="spacingAndGlyphs">Solvent</text>
<circle cx="130.40" cy="475.20" r="2.3" fill="#000"/>
<circle cx="130.40" cy="491.50" r="2.3" fill="#000"/>
<circle cx="130.40" cy="498.40" r="2.3" fill="#000"/>
<line x1="126.00" y1="486.60" x2="134.60" y2="486.60" stroke="#a0a0a0" stroke-width="1.0"/>
<circle cx="153.60" cy="469.60" r="2.0" fill="none" stroke="#4a4a4a" stroke-width="0.95"/>
<circle cx="153.60" cy="472.00" r="2.0" fill="none" stroke="#4a4a4a" stroke-width="0.95"/>
<circle cx="153.60" cy="474.30" r="2.0" fill="none" stroke="#4a4a4a" stroke-width="0.95"/>
<line x1="150.50" y1="472.00" x2="157.00" y2="472.00" stroke="#a8a8a8" stroke-width="0.9"/>
<path d="M131.40,470.50 L131.40,464.50 L146.50,464.50" stroke="#2a2a2a" stroke-width="1.1" fill="none"/>
<text x="133.10" y="460.80" font-size="9.6" fill="#111" stroke="#111" stroke-width="0.2" textLength="12.1" lengthAdjust="spacingAndGlyphs">1.7</text>
<text x="134.10" y="470.90" font-size="7.2" fill="#222" stroke="#222" stroke-width="0.12" textLength="11.1" lengthAdjust="spacingAndGlyphs">n.s.</text>
<rect x="213.7" y="414.5" width="49.80" height="127.70" fill="none" stroke="#858585" stroke-width="1.15"/>
<line x1="213.20" y1="414.50" x2="264.00" y2="414.50" stroke="#5a5a5a" stroke-width="1.1"/>
<line x1="212.30" y1="444.25" x2="214.10" y2="444.25" stroke="#3a3a3a" stroke-width="0.8"/>
<line x1="212.30" y1="436.76" x2="214.10" y2="436.76" stroke="#3a3a3a" stroke-width="0.8"/>
<line x1="212.30" y1="431.44" x2="214.10" y2="431.44" stroke="#3a3a3a" stroke-width="0.8"/>
<line x1="212.30" y1="427.31" x2="214.10" y2="427.31" stroke="#3a3a3a" stroke-width="0.8"/>
<line x1="212.30" y1="423.94" x2="214.10" y2="423.94" stroke="#3a3a3a" stroke-width="0.8"/>
<line x1="212.30" y1="421.09" x2="214.10" y2="421.09" stroke="#3a3a3a" stroke-width="0.8"/>
<line x1="212.30" y1="418.63" x2="214.10" y2="418.63" stroke="#3a3a3a" stroke-width="0.8"/>
<line x1="212.30" y1="416.45" x2="214.10" y2="416.45" stroke="#3a3a3a" stroke-width="0.8"/>
<line x1="212.30" y1="486.82" x2="214.10" y2="486.82" stroke="#3a3a3a" stroke-width="0.8"/>
<line x1="212.30" y1="479.32" x2="214.10" y2="479.32" stroke="#3a3a3a" stroke-width="0.8"/>
<line x1="212.30" y1="474.01" x2="214.10" y2="474.01" stroke="#3a3a3a" stroke-width="0.8"/>
<line x1="212.30" y1="469.88" x2="214.10" y2="469.88" stroke="#3a3a3a" stroke-width="0.8"/>
<line x1="212.30" y1="466.51" x2="214.10" y2="466.51" stroke="#3a3a3a" stroke-width="0.8"/>
<line x1="212.30" y1="463.66" x2="214.10" y2="463.66" stroke="#3a3a3a" stroke-width="0.8"/>
<line x1="212.30" y1="461.19" x2="214.10" y2="461.19" stroke="#3a3a3a" stroke-width="0.8"/>
<line x1="212.30" y1="459.01" x2="214.10" y2="459.01" stroke="#3a3a3a" stroke-width="0.8"/>
<line x1="212.30" y1="529.39" x2="214.10" y2="529.39" stroke="#3a3a3a" stroke-width="0.8"/>
<line x1="212.30" y1="521.89" x2="214.10" y2="521.89" stroke="#3a3a3a" stroke-width="0.8"/>
<line x1="212.30" y1="516.57" x2="214.10" y2="516.57" stroke="#3a3a3a" stroke-width="0.8"/>
<line x1="212.30" y1="512.45" x2="214.10" y2="512.45" stroke="#3a3a3a" stroke-width="0.8"/>
<line x1="212.30" y1="509.08" x2="214.10" y2="509.08" stroke="#3a3a3a" stroke-width="0.8"/>
<line x1="212.30" y1="506.23" x2="214.10" y2="506.23" stroke="#3a3a3a" stroke-width="0.8"/>
<line x1="212.30" y1="503.76" x2="214.10" y2="503.76" stroke="#3a3a3a" stroke-width="0.8"/>
<line x1="212.30" y1="501.58" x2="214.10" y2="501.58" stroke="#3a3a3a" stroke-width="0.8"/>
<line x1="211.30" y1="414.50" x2="213.70" y2="414.50" stroke="#444" stroke-width="0.8"/>
<line x1="211.30" y1="457.07" x2="213.70" y2="457.07" stroke="#444" stroke-width="0.8"/>
<line x1="211.30" y1="499.63" x2="213.70" y2="499.63" stroke="#444" stroke-width="0.8"/>
<line x1="211.30" y1="542.20" x2="213.70" y2="542.20" stroke="#444" stroke-width="0.8"/>
<text x="186.00" y="416.60" font-size="10.4" fill="#151515" stroke="#151515" stroke-width="0.2" textLength="20.4" lengthAdjust="spacingAndGlyphs">1x10</text>
<text x="207.40" y="412.80" font-size="8.6" fill="#151515" stroke="#151515" stroke-width="0.2" textLength="4.3" lengthAdjust="spacingAndGlyphs">9</text>
<text x="186.00" y="459.67" font-size="10.4" fill="#151515" stroke="#151515" stroke-width="0.2" textLength="20.4" lengthAdjust="spacingAndGlyphs">1x10</text>
<text x="207.40" y="455.87" font-size="8.6" fill="#151515" stroke="#151515" stroke-width="0.2" textLength="4.3" lengthAdjust="spacingAndGlyphs">8</text>
<text x="186.00" y="503.23" font-size="10.4" fill="#151515" stroke="#151515" stroke-width="0.2" textLength="20.4" lengthAdjust="spacingAndGlyphs">1x10</text>
<text x="207.40" y="499.43" font-size="8.6" fill="#151515" stroke="#151515" stroke-width="0.2" textLength="4.3" lengthAdjust="spacingAndGlyphs">7</text>
<text x="186.00" y="544.70" font-size="10.4" fill="#151515" stroke="#151515" stroke-width="0.2" textLength="20.4" lengthAdjust="spacingAndGlyphs">1x10</text>
<text x="207.40" y="540.90" font-size="8.6" fill="#151515" stroke="#151515" stroke-width="0.2" textLength="4.3" lengthAdjust="spacingAndGlyphs">6</text>
<line x1="226.60" y1="542.20" x2="226.60" y2="544.20" stroke="#555" stroke-width="0.8"/>
<line x1="251.20" y1="542.20" x2="251.20" y2="544.20" stroke="#555" stroke-width="0.8"/>
<text x="214.00" y="553.60" font-size="6.3" fill="#222" stroke="#222" stroke-width="0.15" textLength="46.7" lengthAdjust="spacingAndGlyphs">LBW242 solvent</text>
<circle cx="226.60" cy="493.00" r="2.3" fill="#000"/>
<circle cx="226.60" cy="499.00" r="2.3" fill="#000"/>
<circle cx="226.60" cy="507.00" r="2.3" fill="#000"/>
<line x1="223.00" y1="499.00" x2="230.20" y2="499.00" stroke="#a0a0a0" stroke-width="1.0"/>
<circle cx="251.20" cy="455.00" r="2.0" fill="none" stroke="#4a4a4a" stroke-width="0.95"/>
<circle cx="251.20" cy="459.40" r="2.0" fill="none" stroke="#4a4a4a" stroke-width="0.95"/>
<line x1="247.80" y1="457.50" x2="254.60" y2="457.50" stroke="#a8a8a8" stroke-width="0.9"/>
<path d="M230.10,489.80 L230.10,458.40 L244.10,458.40" stroke="#2a2a2a" stroke-width="1.1" fill="none"/>
<text x="229.90" y="455.70" font-size="9.6" fill="#111" stroke="#111" stroke-width="0.2" textLength="14.2" lengthAdjust="spacingAndGlyphs">9.8</text>
<polygon points="234.20,460.75 234.81,462.07 236.24,462.24 235.18,463.22 235.46,464.64 234.20,463.93 232.94,464.64 233.22,463.22 232.16,462.24 233.59,462.07" fill="#111" stroke="#111" stroke-width="0.3"/>
<polygon points="239.20,460.75 239.81,462.07 241.24,462.24 240.18,463.22 240.46,464.64 239.20,463.93 237.94,464.64 238.22,463.22 237.16,462.24 238.59,462.07" fill="#111" stroke="#111" stroke-width="0.3"/>
<polygon points="244.10,460.75 244.71,462.07 246.14,462.24 245.08,463.22 245.36,464.64 244.10,463.93 242.84,464.64 243.12,463.22 242.06,462.24 243.49,462.07" fill="#111" stroke="#111" stroke-width="0.3"/>
<rect x="294.2" y="412.8" width="47.30" height="128.90" fill="none" stroke="#858585" stroke-width="1.15"/>
<line x1="293.70" y1="412.80" x2="342.00" y2="412.80" stroke="#5a5a5a" stroke-width="1.1"/>
<line x1="292.80" y1="442.83" x2="294.60" y2="442.83" stroke="#3a3a3a" stroke-width="0.8"/>
<line x1="292.80" y1="435.27" x2="294.60" y2="435.27" stroke="#3a3a3a" stroke-width="0.8"/>
<line x1="292.80" y1="429.90" x2="294.60" y2="429.90" stroke="#3a3a3a" stroke-width="0.8"/>
<line x1="292.80" y1="425.73" x2="294.60" y2="425.73" stroke="#3a3a3a" stroke-width="0.8"/>
<line x1="292.80" y1="422.33" x2="294.60" y2="422.33" stroke="#3a3a3a" stroke-width="0.8"/>
<line x1="292.80" y1="419.46" x2="294.60" y2="419.46" stroke="#3a3a3a" stroke-width="0.8"/>
<line x1="292.80" y1="416.96" x2="294.60" y2="416.96" stroke="#3a3a3a" stroke-width="0.8"/>
<line x1="292.80" y1="414.77" x2="294.60" y2="414.77" stroke="#3a3a3a" stroke-width="0.8"/>
<line x1="292.80" y1="485.80" x2="294.60" y2="485.80" stroke="#3a3a3a" stroke-width="0.8"/>
<line x1="292.80" y1="478.23" x2="294.60" y2="478.23" stroke="#3a3a3a" stroke-width="0.8"/>
<line x1="292.80" y1="472.86" x2="294.60" y2="472.86" stroke="#3a3a3a" stroke-width="0.8"/>
<line x1="292.80" y1="468.70" x2="294.60" y2="468.70" stroke="#3a3a3a" stroke-width="0.8"/>
<line x1="292.80" y1="465.30" x2="294.60" y2="465.30" stroke="#3a3a3a" stroke-width="0.8"/>
<line x1="292.80" y1="462.42" x2="294.60" y2="462.42" stroke="#3a3a3a" stroke-width="0.8"/>
<line x1="292.80" y1="459.93" x2="294.60" y2="459.93" stroke="#3a3a3a" stroke-width="0.8"/>
<line x1="292.80" y1="457.73" x2="294.60" y2="457.73" stroke="#3a3a3a" stroke-width="0.8"/>
<line x1="292.80" y1="528.77" x2="294.60" y2="528.77" stroke="#3a3a3a" stroke-width="0.8"/>
<line x1="292.80" y1="521.20" x2="294.60" y2="521.20" stroke="#3a3a3a" stroke-width="0.8"/>
<line x1="292.80" y1="515.83" x2="294.60" y2="515.83" stroke="#3a3a3a" stroke-width="0.8"/>
<line x1="292.80" y1="511.67" x2="294.60" y2="511.67" stroke="#3a3a3a" stroke-width="0.8"/>
<line x1="292.80" y1="508.27" x2="294.60" y2="508.27" stroke="#3a3a3a" stroke-width="0.8"/>
<line x1="292.80" y1="505.39" x2="294.60" y2="505.39" stroke="#3a3a3a" stroke-width="0.8"/>
<line x1="292.80" y1="502.90" x2="294.60" y2="502.90" stroke="#3a3a3a" stroke-width="0.8"/>
<line x1="292.80" y1="500.70" x2="294.60" y2="500.70" stroke="#3a3a3a" stroke-width="0.8"/>
<line x1="291.80" y1="412.80" x2="294.20" y2="412.80" stroke="#444" stroke-width="0.8"/>
<line x1="291.80" y1="455.77" x2="294.20" y2="455.77" stroke="#444" stroke-width="0.8"/>
<line x1="291.80" y1="498.73" x2="294.20" y2="498.73" stroke="#444" stroke-width="0.8"/>
<line x1="291.80" y1="541.70" x2="294.20" y2="541.70" stroke="#444" stroke-width="0.8"/>
<text x="264.80" y="415.40" font-size="10.4" fill="#151515" stroke="#151515" stroke-width="0.2" textLength="20.4" lengthAdjust="spacingAndGlyphs">1x10</text>
<text x="286.20" y="411.60" font-size="8.6" fill="#151515" stroke="#151515" stroke-width="0.2" textLength="4.3" lengthAdjust="spacingAndGlyphs">9</text>
<text x="264.80" y="457.97" font-size="10.4" fill="#151515" stroke="#151515" stroke-width="0.2" textLength="20.4" lengthAdjust="spacingAndGlyphs">1x10</text>
<text x="286.20" y="454.17" font-size="8.6" fill="#151515" stroke="#151515" stroke-width="0.2" textLength="4.3" lengthAdjust="spacingAndGlyphs">8</text>
<text x="264.80" y="501.13" font-size="10.4" fill="#151515" stroke="#151515" stroke-width="0.2" textLength="20.4" lengthAdjust="spacingAndGlyphs">1x10</text>
<text x="286.20" y="497.33" font-size="8.6" fill="#151515" stroke="#151515" stroke-width="0.2" textLength="4.3" lengthAdjust="spacingAndGlyphs">7</text>
<text x="264.80" y="544.30" font-size="10.4" fill="#151515" stroke="#151515" stroke-width="0.2" textLength="20.4" lengthAdjust="spacingAndGlyphs">1x10</text>
<text x="286.20" y="540.50" font-size="8.6" fill="#151515" stroke="#151515" stroke-width="0.2" textLength="4.3" lengthAdjust="spacingAndGlyphs">6</text>
<line x1="305.70" y1="541.70" x2="305.70" y2="543.70" stroke="#555" stroke-width="0.8"/>
<line x1="329.60" y1="541.70" x2="329.60" y2="543.70" stroke="#555" stroke-width="0.8"/>
<text x="293.70" y="553.20" font-size="6.3" fill="#222" stroke="#222" stroke-width="0.15" textLength="45.7" lengthAdjust="spacingAndGlyphs">LBW242 solvent</text>
<circle cx="305.80" cy="487.40" r="2.3" fill="#000"/>
<circle cx="305.70" cy="499.60" r="2.3" fill="#000"/>
<circle cx="305.70" cy="509.20" r="2.3" fill="#000"/>
<line x1="302.10" y1="497.40" x2="310.50" y2="497.40" stroke="#a0a0a0" stroke-width="1.0"/>
<circle cx="329.60" cy="470.80" r="2.0" fill="none" stroke="#4a4a4a" stroke-width="0.95"/>
<circle cx="329.60" cy="479.00" r="2.0" fill="none" stroke="#4a4a4a" stroke-width="0.95"/>
<circle cx="329.60" cy="481.30" r="2.0" fill="none" stroke="#4a4a4a" stroke-width="0.95"/>
<line x1="325.80" y1="476.60" x2="333.10" y2="476.60" stroke="#a8a8a8" stroke-width="0.9"/>
<path d="M307.30,482.40 L307.30,476.50 L321.90,476.50" stroke="#2a2a2a" stroke-width="1.1" fill="none"/>
<text x="306.90" y="473.50" font-size="9.6" fill="#111" stroke="#111" stroke-width="0.2" textLength="14.3" lengthAdjust="spacingAndGlyphs">3.0</text>
<polygon points="315.00,477.95 315.61,479.27 317.04,479.44 315.98,480.42 316.26,481.84 315.00,481.13 313.74,481.84 314.02,480.42 312.96,479.44 314.39,479.27" fill="#111" stroke="#111" stroke-width="0.3"/>
<rect x="389.1" y="413.8" width="50.30" height="129.10" fill="none" stroke="#858585" stroke-width="1.15"/>
<line x1="388.60" y1="413.80" x2="439.90" y2="413.80" stroke="#808080" stroke-width="1.1"/>
<line x1="387.70" y1="443.88" x2="389.50" y2="443.88" stroke="#3a3a3a" stroke-width="0.8"/>
<line x1="387.70" y1="436.30" x2="389.50" y2="436.30" stroke="#3a3a3a" stroke-width="0.8"/>
<line x1="387.70" y1="430.92" x2="389.50" y2="430.92" stroke="#3a3a3a" stroke-width="0.8"/>
<line x1="387.70" y1="426.75" x2="389.50" y2="426.75" stroke="#3a3a3a" stroke-width="0.8"/>
<line x1="387.70" y1="423.35" x2="389.50" y2="423.35" stroke="#3a3a3a" stroke-width="0.8"/>
<line x1="387.70" y1="420.47" x2="389.50" y2="420.47" stroke="#3a3a3a" stroke-width="0.8"/>
<line x1="387.70" y1="417.97" x2="389.50" y2="417.97" stroke="#3a3a3a" stroke-width="0.8"/>
<line x1="387.70" y1="415.77" x2="389.50" y2="415.77" stroke="#3a3a3a" stroke-width="0.8"/>
<line x1="387.70" y1="486.91" x2="389.50" y2="486.91" stroke="#3a3a3a" stroke-width="0.8"/>
<line x1="387.70" y1="479.33" x2="389.50" y2="479.33" stroke="#3a3a3a" stroke-width="0.8"/>
<line x1="387.70" y1="473.96" x2="389.50" y2="473.96" stroke="#3a3a3a" stroke-width="0.8"/>
<line x1="387.70" y1="469.79" x2="389.50" y2="469.79" stroke="#3a3a3a" stroke-width="0.8"/>
<line x1="387.70" y1="466.38" x2="389.50" y2="466.38" stroke="#3a3a3a" stroke-width="0.8"/>
<line x1="387.70" y1="463.50" x2="389.50" y2="463.50" stroke="#3a3a3a" stroke-width="0.8"/>
<line x1="387.70" y1="461.00" x2="389.50" y2="461.00" stroke="#3a3a3a" stroke-width="0.8"/>
<line x1="387.70" y1="458.80" x2="389.50" y2="458.80" stroke="#3a3a3a" stroke-width="0.8"/>
<line x1="387.70" y1="529.95" x2="389.50" y2="529.95" stroke="#3a3a3a" stroke-width="0.8"/>
<line x1="387.70" y1="522.37" x2="389.50" y2="522.37" stroke="#3a3a3a" stroke-width="0.8"/>
<line x1="387.70" y1="516.99" x2="389.50" y2="516.99" stroke="#3a3a3a" stroke-width="0.8"/>
<line x1="387.70" y1="512.82" x2="389.50" y2="512.82" stroke="#3a3a3a" stroke-width="0.8"/>
<line x1="387.70" y1="509.41" x2="389.50" y2="509.41" stroke="#3a3a3a" stroke-width="0.8"/>
<line x1="387.70" y1="506.53" x2="389.50" y2="506.53" stroke="#3a3a3a" stroke-width="0.8"/>
<line x1="387.70" y1="504.04" x2="389.50" y2="504.04" stroke="#3a3a3a" stroke-width="0.8"/>
<line x1="387.70" y1="501.84" x2="389.50" y2="501.84" stroke="#3a3a3a" stroke-width="0.8"/>
<line x1="386.70" y1="413.80" x2="389.10" y2="413.80" stroke="#444" stroke-width="0.8"/>
<line x1="386.70" y1="456.83" x2="389.10" y2="456.83" stroke="#444" stroke-width="0.8"/>
<line x1="386.70" y1="499.87" x2="389.10" y2="499.87" stroke="#444" stroke-width="0.8"/>
<line x1="386.70" y1="542.90" x2="389.10" y2="542.90" stroke="#444" stroke-width="0.8"/>
<text x="363.00" y="415.60" font-size="10.4" fill="#151515" stroke="#151515" stroke-width="0.2" textLength="20.4" lengthAdjust="spacingAndGlyphs">1x10</text>
<text x="384.40" y="411.80" font-size="8.6" fill="#151515" stroke="#151515" stroke-width="0.2" textLength="4.3" lengthAdjust="spacingAndGlyphs">8</text>
<text x="363.00" y="461.13" font-size="10.4" fill="#151515" stroke="#151515" stroke-width="0.2" textLength="20.4" lengthAdjust="spacingAndGlyphs">1x10</text>
<text x="384.40" y="457.33" font-size="8.6" fill="#151515" stroke="#151515" stroke-width="0.2" textLength="4.3" lengthAdjust="spacingAndGlyphs">7</text>
<text x="363.00" y="502.17" font-size="10.4" fill="#151515" stroke="#151515" stroke-width="0.2" textLength="20.4" lengthAdjust="spacingAndGlyphs">1x10</text>
<text x="384.40" y="498.37" font-size="8.6" fill="#151515" stroke="#151515" stroke-width="0.2" textLength="4.3" lengthAdjust="spacingAndGlyphs">6</text>
<text x="363.00" y="544.70" font-size="10.4" fill="#151515" stroke="#151515" stroke-width="0.2" textLength="20.4" lengthAdjust="spacingAndGlyphs">1x10</text>
<text x="384.40" y="540.90" font-size="8.6" fill="#151515" stroke="#151515" stroke-width="0.2" textLength="4.3" lengthAdjust="spacingAndGlyphs">5</text>
<line x1="403.00" y1="542.90" x2="403.00" y2="544.90" stroke="#555" stroke-width="0.8"/>
<line x1="426.80" y1="542.90" x2="426.80" y2="544.90" stroke="#555" stroke-width="0.8"/>
<text x="388.90" y="553.40" font-size="6.3" fill="#222" stroke="#222" stroke-width="0.15" textLength="23.4" lengthAdjust="spacingAndGlyphs">LBW242</text>
<text x="418.80" y="553.40" font-size="6.3" fill="#222" stroke="#222" stroke-width="0.15" textLength="20.7" lengthAdjust="spacingAndGlyphs">Solvent</text>
<circle cx="403.00" cy="485.10" r="2.3" fill="#000"/>
<circle cx="403.00" cy="492.40" r="2.3" fill="#000"/>
<circle cx="403.00" cy="495.20" r="2.3" fill="#000"/>
<circle cx="426.80" cy="449.80" r="2.0" fill="none" stroke="#4a4a4a" stroke-width="0.95"/>
<circle cx="426.80" cy="453.20" r="2.0" fill="none" stroke="#4a4a4a" stroke-width="0.95"/>
<line x1="423.50" y1="451.50" x2="430.00" y2="451.50" stroke="#a8a8a8" stroke-width="0.9"/>
<path d="M405.20,481.30 L405.20,452.60 L420.00,452.60" stroke="#2a2a2a" stroke-width="1.1" fill="none"/>
<text x="406.20" y="449.50" font-size="9.6" fill="#111" stroke="#111" stroke-width="0.2" textLength="12.9" lengthAdjust="spacingAndGlyphs">8.1</text>
<polygon points="409.80,455.65 410.41,456.97 411.84,457.14 410.78,458.12 411.06,459.54 409.80,458.83 408.54,459.54 408.82,458.12 407.76,457.14 409.19,456.97" fill="#111" stroke="#111" stroke-width="0.3"/>
<polygon points="414.50,455.65 415.11,456.97 416.54,457.14 415.48,458.12 415.76,459.54 414.50,458.83 413.24,459.54 413.52,458.12 412.46,457.14 413.89,456.97" fill="#111" stroke="#111" stroke-width="0.3"/>
<polygon points="419.70,455.65 420.31,456.97 421.74,457.14 420.68,458.12 420.96,459.54 419.70,458.83 418.44,459.54 418.72,458.12 417.66,457.14 419.09,456.97" fill="#111" stroke="#111" stroke-width="0.3"/>
<rect x="471.2" y="413.9" width="46.20" height="128.50" fill="none" stroke="#858585" stroke-width="1.15"/>
<line x1="470.70" y1="413.90" x2="517.90" y2="413.90" stroke="#8a8a8a" stroke-width="1.1"/>
<line x1="469.80" y1="443.84" x2="471.60" y2="443.84" stroke="#3a3a3a" stroke-width="0.8"/>
<line x1="469.80" y1="436.30" x2="471.60" y2="436.30" stroke="#3a3a3a" stroke-width="0.8"/>
<line x1="469.80" y1="430.95" x2="471.60" y2="430.95" stroke="#3a3a3a" stroke-width="0.8"/>
<line x1="469.80" y1="426.79" x2="471.60" y2="426.79" stroke="#3a3a3a" stroke-width="0.8"/>
<line x1="469.80" y1="423.40" x2="471.60" y2="423.40" stroke="#3a3a3a" stroke-width="0.8"/>
<line x1="469.80" y1="420.53" x2="471.60" y2="420.53" stroke="#3a3a3a" stroke-width="0.8"/>
<line x1="469.80" y1="418.05" x2="471.60" y2="418.05" stroke="#3a3a3a" stroke-width="0.8"/>
<line x1="469.80" y1="415.86" x2="471.60" y2="415.86" stroke="#3a3a3a" stroke-width="0.8"/>
<line x1="469.80" y1="486.67" x2="471.60" y2="486.67" stroke="#3a3a3a" stroke-width="0.8"/>
<line x1="469.80" y1="479.13" x2="471.60" y2="479.13" stroke="#3a3a3a" stroke-width="0.8"/>
<line x1="469.80" y1="473.78" x2="471.60" y2="473.78" stroke="#3a3a3a" stroke-width="0.8"/>
<line x1="469.80" y1="469.63" x2="471.60" y2="469.63" stroke="#3a3a3a" stroke-width="0.8"/>
<line x1="469.80" y1="466.24" x2="471.60" y2="466.24" stroke="#3a3a3a" stroke-width="0.8"/>
<line x1="469.80" y1="463.37" x2="471.60" y2="463.37" stroke="#3a3a3a" stroke-width="0.8"/>
<line x1="469.80" y1="460.88" x2="471.60" y2="460.88" stroke="#3a3a3a" stroke-width="0.8"/>
<line x1="469.80" y1="458.69" x2="471.60" y2="458.69" stroke="#3a3a3a" stroke-width="0.8"/>
<line x1="469.80" y1="529.51" x2="471.60" y2="529.51" stroke="#3a3a3a" stroke-width="0.8"/>
<line x1="469.80" y1="521.96" x2="471.60" y2="521.96" stroke="#3a3a3a" stroke-width="0.8"/>
<line x1="469.80" y1="516.61" x2="471.60" y2="516.61" stroke="#3a3a3a" stroke-width="0.8"/>
<line x1="469.80" y1="512.46" x2="471.60" y2="512.46" stroke="#3a3a3a" stroke-width="0.8"/>
<line x1="469.80" y1="509.07" x2="471.60" y2="509.07" stroke="#3a3a3a" stroke-width="0.8"/>
<line x1="469.80" y1="506.20" x2="471.60" y2="506.20" stroke="#3a3a3a" stroke-width="0.8"/>
<line x1="469.80" y1="503.72" x2="471.60" y2="503.72" stroke="#3a3a3a" stroke-width="0.8"/>
<line x1="469.80" y1="501.53" x2="471.60" y2="501.53" stroke="#3a3a3a" stroke-width="0.8"/>
<line x1="468.80" y1="413.90" x2="471.20" y2="413.90" stroke="#444" stroke-width="0.8"/>
<line x1="468.80" y1="456.73" x2="471.20" y2="456.73" stroke="#444" stroke-width="0.8"/>
<line x1="468.80" y1="499.57" x2="471.20" y2="499.57" stroke="#444" stroke-width="0.8"/>
<line x1="468.80" y1="542.40" x2="471.20" y2="542.40" stroke="#444" stroke-width="0.8"/>
<text x="443.40" y="417.10" font-size="10.4" fill="#151515" stroke="#151515" stroke-width="0.2" textLength="20.4" lengthAdjust="spacingAndGlyphs">1x10</text>
<text x="464.80" y="413.30" font-size="8.6" fill="#151515" stroke="#151515" stroke-width="0.2" textLength="4.3" lengthAdjust="spacingAndGlyphs">8</text>
<text x="443.40" y="459.13" font-size="10.4" fill="#151515" stroke="#151515" stroke-width="0.2" textLength="20.4" lengthAdjust="spacingAndGlyphs">1x10</text>
<text x="464.80" y="455.33" font-size="8.6" fill="#151515" stroke="#151515" stroke-width="0.2" textLength="4.3" lengthAdjust="spacingAndGlyphs">7</text>
<text x="443.40" y="502.27" font-size="10.4" fill="#151515" stroke="#151515" stroke-width="0.2" textLength="20.4" lengthAdjust="spacingAndGlyphs">1x10</text>
<text x="464.80" y="498.47" font-size="8.6" fill="#151515" stroke="#151515" stroke-width="0.2" textLength="4.3" lengthAdjust="spacingAndGlyphs">6</text>
<text x="443.40" y="546.30" font-size="10.4" fill="#151515" stroke="#151515" stroke-width="0.2" textLength="20.4" lengthAdjust="spacingAndGlyphs">1x10</text>
<text x="464.80" y="542.50" font-size="8.6" fill="#151515" stroke="#151515" stroke-width="0.2" textLength="4.3" lengthAdjust="spacingAndGlyphs">5</text>
<line x1="482.90" y1="542.40" x2="482.90" y2="544.40" stroke="#555" stroke-width="0.8"/>
<line x1="506.50" y1="542.40" x2="506.50" y2="544.40" stroke="#555" stroke-width="0.8"/>
<text x="469.40" y="553.40" font-size="6.3" fill="#222" stroke="#222" stroke-width="0.15" textLength="23.4" lengthAdjust="spacingAndGlyphs">LBW242</text>
<text x="497.20" y="553.40" font-size="6.3" fill="#222" stroke="#222" stroke-width="0.15" textLength="21.6" lengthAdjust="spacingAndGlyphs">Solvent</text>
<circle cx="482.90" cy="483.50" r="2.3" fill="#000"/>
<circle cx="482.90" cy="499.60" r="2.3" fill="#000"/>
<circle cx="482.90" cy="505.60" r="2.3" fill="#000"/>
<line x1="478.80" y1="493.60" x2="487.70" y2="493.60" stroke="#a0a0a0" stroke-width="1.0"/>
<circle cx="506.50" cy="468.50" r="2.0" fill="none" stroke="#4a4a4a" stroke-width="0.95"/>
<circle cx="506.50" cy="478.70" r="2.0" fill="none" stroke="#4a4a4a" stroke-width="0.95"/>
<circle cx="506.50" cy="486.60" r="2.0" fill="none" stroke="#4a4a4a" stroke-width="0.95"/>
<line x1="502.20" y1="476.20" x2="510.60" y2="476.20" stroke="#a8a8a8" stroke-width="0.9"/>
<path d="M483.40,481.00 L483.40,476.20 L498.60,476.20" stroke="#2a2a2a" stroke-width="1.1" fill="none"/>
<text x="484.10" y="474.30" font-size="9.6" fill="#111" stroke="#111" stroke-width="0.2" textLength="13.3" lengthAdjust="spacingAndGlyphs">2.5</text>
<text x="485.00" y="481.60" font-size="7.2" fill="#222" stroke="#222" stroke-width="0.12" textLength="12.6" lengthAdjust="spacingAndGlyphs">n.s.</text>
<rect x="42.6" y="607.5" width="47.80" height="128.80" fill="none" stroke="#858585" stroke-width="1.15"/>
<line x1="42.10" y1="607.50" x2="90.90" y2="607.50" stroke="#5a5a5a" stroke-width="1.1"/>
<line x1="41.20" y1="637.51" x2="43.00" y2="637.51" stroke="#3a3a3a" stroke-width="0.8"/>
<line x1="41.20" y1="629.95" x2="43.00" y2="629.95" stroke="#3a3a3a" stroke-width="0.8"/>
<line x1="41.20" y1="624.58" x2="43.00" y2="624.58" stroke="#3a3a3a" stroke-width="0.8"/>
<line x1="41.20" y1="620.42" x2="43.00" y2="620.42" stroke="#3a3a3a" stroke-width="0.8"/>
<line x1="41.20" y1="617.02" x2="43.00" y2="617.02" stroke="#3a3a3a" stroke-width="0.8"/>
<line x1="41.20" y1="614.15" x2="43.00" y2="614.15" stroke="#3a3a3a" stroke-width="0.8"/>
<line x1="41.20" y1="611.66" x2="43.00" y2="611.66" stroke="#3a3a3a" stroke-width="0.8"/>
<line x1="41.20" y1="609.46" x2="43.00" y2="609.46" stroke="#3a3a3a" stroke-width="0.8"/>
<line x1="41.20" y1="680.44" x2="43.00" y2="680.44" stroke="#3a3a3a" stroke-width="0.8"/>
<line x1="41.20" y1="672.88" x2="43.00" y2="672.88" stroke="#3a3a3a" stroke-width="0.8"/>
<line x1="41.20" y1="667.52" x2="43.00" y2="667.52" stroke="#3a3a3a" stroke-width="0.8"/>
<line x1="41.20" y1="663.36" x2="43.00" y2="663.36" stroke="#3a3a3a" stroke-width="0.8"/>
<line x1="41.20" y1="659.96" x2="43.00" y2="659.96" stroke="#3a3a3a" stroke-width="0.8"/>
<line x1="41.20" y1="657.08" x2="43.00" y2="657.08" stroke="#3a3a3a" stroke-width="0.8"/>
<line x1="41.20" y1="654.59" x2="43.00" y2="654.59" stroke="#3a3a3a" stroke-width="0.8"/>
<line x1="41.20" y1="652.40" x2="43.00" y2="652.40" stroke="#3a3a3a" stroke-width="0.8"/>
<line x1="41.20" y1="723.38" x2="43.00" y2="723.38" stroke="#3a3a3a" stroke-width="0.8"/>
<line x1="41.20" y1="715.82" x2="43.00" y2="715.82" stroke="#3a3a3a" stroke-width="0.8"/>
<line x1="41.20" y1="710.45" x2="43.00" y2="710.45" stroke="#3a3a3a" stroke-width="0.8"/>
<line x1="41.20" y1="706.29" x2="43.00" y2="706.29" stroke="#3a3a3a" stroke-width="0.8"/>
<line x1="41.20" y1="702.89" x2="43.00" y2="702.89" stroke="#3a3a3a" stroke-width="0.8"/>
<line x1="41.20" y1="700.02" x2="43.00" y2="700.02" stroke="#3a3a3a" stroke-width="0.8"/>
<line x1="41.20" y1="697.53" x2="43.00" y2="697.53" stroke="#3a3a3a" stroke-width="0.8"/>
<line x1="41.20" y1="695.33" x2="43.00" y2="695.33" stroke="#3a3a3a" stroke-width="0.8"/>
<line x1="40.20" y1="607.50" x2="42.60" y2="607.50" stroke="#444" stroke-width="0.8"/>
<line x1="40.20" y1="650.43" x2="42.60" y2="650.43" stroke="#444" stroke-width="0.8"/>
<line x1="40.20" y1="693.37" x2="42.60" y2="693.37" stroke="#444" stroke-width="0.8"/>
<line x1="40.20" y1="736.30" x2="42.60" y2="736.30" stroke="#444" stroke-width="0.8"/>
<text x="14.00" y="607.40" font-size="10.4" fill="#151515" stroke="#151515" stroke-width="0.2" textLength="20.4" lengthAdjust="spacingAndGlyphs">1x10</text>
<text x="35.40" y="603.60" font-size="8.6" fill="#151515" stroke="#151515" stroke-width="0.2" textLength="4.3" lengthAdjust="spacingAndGlyphs">9</text>
<text x="14.00" y="652.13" font-size="10.4" fill="#151515" stroke="#151515" stroke-width="0.2" textLength="20.4" lengthAdjust="spacingAndGlyphs">1x10</text>
<text x="35.40" y="648.33" font-size="8.6" fill="#151515" stroke="#151515" stroke-width="0.2" textLength="4.3" lengthAdjust="spacingAndGlyphs">8</text>
<text x="14.00" y="696.17" font-size="10.4" fill="#151515" stroke="#151515" stroke-width="0.2" textLength="20.4" lengthAdjust="spacingAndGlyphs">1x10</text>
<text x="35.40" y="692.37" font-size="8.6" fill="#151515" stroke="#151515" stroke-width="0.2" textLength="4.3" lengthAdjust="spacingAndGlyphs">7</text>
<text x="14.00" y="739.30" font-size="10.4" fill="#151515" stroke="#151515" stroke-width="0.2" textLength="20.4" lengthAdjust="spacingAndGlyphs">1x10</text>
<text x="35.40" y="735.50" font-size="8.6" fill="#151515" stroke="#151515" stroke-width="0.2" textLength="4.3" lengthAdjust="spacingAndGlyphs">6</text>
<line x1="54.90" y1="736.30" x2="54.90" y2="738.30" stroke="#555" stroke-width="0.8"/>
<line x1="78.60" y1="736.30" x2="78.60" y2="738.30" stroke="#555" stroke-width="0.8"/>
<text x="41.70" y="746.60" font-size="6.3" fill="#222" stroke="#222" stroke-width="0.15" textLength="20.3" lengthAdjust="spacingAndGlyphs">LBW242</text>
<text x="68.70" y="746.60" font-size="6.3" fill="#222" stroke="#222" stroke-width="0.15" textLength="21.0" lengthAdjust="spacingAndGlyphs">Solvent</text>
<circle cx="54.90" cy="705.10" r="2.3" fill="#000"/>
<circle cx="54.90" cy="707.40" r="2.3" fill="#000"/>
<circle cx="54.90" cy="719.90" r="2.3" fill="#000"/>
<line x1="51.10" y1="711.50" x2="58.50" y2="711.50" stroke="#a0a0a0" stroke-width="1.0"/>
<circle cx="78.60" cy="652.30" r="2.0" fill="none" stroke="#4a4a4a" stroke-width="0.95"/>
<circle cx="78.60" cy="658.80" r="2.0" fill="none" stroke="#4a4a4a" stroke-width="0.95"/>
<line x1="74.90" y1="656.20" x2="81.60" y2="656.20" stroke="#a8a8a8" stroke-width="0.9"/>
<path d="M55.70,703.00 L55.70,657.20 L70.20,657.20" stroke="#2a2a2a" stroke-width="1.1" fill="none"/>
<text x="55.00" y="652.80" font-size="9.6" fill="#111" stroke="#111" stroke-width="0.2" textLength="18.2" lengthAdjust="spacingAndGlyphs">18.2</text>
<polygon points="59.80,658.40 60.36,659.62 61.70,659.78 60.71,660.70 60.98,662.02 59.80,661.36 58.62,662.02 58.89,660.70 57.90,659.78 59.24,659.62" fill="#111" stroke="#111" stroke-width="0.3"/>
<polygon points="64.80,658.40 65.36,659.62 66.70,659.78 65.71,660.70 65.98,662.02 64.80,661.36 63.62,662.02 63.89,660.70 62.90,659.78 64.24,659.62" fill="#111" stroke="#111" stroke-width="0.3"/>
<rect x="119.9" y="607.5" width="46.90" height="128.50" fill="none" stroke="#858585" stroke-width="1.15"/>
<line x1="119.40" y1="607.50" x2="167.30" y2="607.50" stroke="#5a5a5a" stroke-width="1.1"/>
<line x1="118.50" y1="637.44" x2="120.30" y2="637.44" stroke="#3a3a3a" stroke-width="0.8"/>
<line x1="118.50" y1="629.90" x2="120.30" y2="629.90" stroke="#3a3a3a" stroke-width="0.8"/>
<line x1="118.50" y1="624.55" x2="120.30" y2="624.55" stroke="#3a3a3a" stroke-width="0.8"/>
<line x1="118.50" y1="620.39" x2="120.30" y2="620.39" stroke="#3a3a3a" stroke-width="0.8"/>
<line x1="118.50" y1="617.00" x2="120.30" y2="617.00" stroke="#3a3a3a" stroke-width="0.8"/>
<line x1="118.50" y1="614.13" x2="120.30" y2="614.13" stroke="#3a3a3a" stroke-width="0.8"/>
<line x1="118.50" y1="611.65" x2="120.30" y2="611.65" stroke="#3a3a3a" stroke-width="0.8"/>
<line x1="118.50" y1="609.46" x2="120.30" y2="609.46" stroke="#3a3a3a" stroke-width="0.8"/>
<line x1="118.50" y1="680.27" x2="120.30" y2="680.27" stroke="#3a3a3a" stroke-width="0.8"/>
<line x1="118.50" y1="672.73" x2="120.30" y2="672.73" stroke="#3a3a3a" stroke-width="0.8"/>
<line x1="118.50" y1="667.38" x2="120.30" y2="667.38" stroke="#3a3a3a" stroke-width="0.8"/>
<line x1="118.50" y1="663.23" x2="120.30" y2="663.23" stroke="#3a3a3a" stroke-width="0.8"/>
<line x1="118.50" y1="659.84" x2="120.30" y2="659.84" stroke="#3a3a3a" stroke-width="0.8"/>
<line x1="118.50" y1="656.97" x2="120.30" y2="656.97" stroke="#3a3a3a" stroke-width="0.8"/>
<line x1="118.50" y1="654.48" x2="120.30" y2="654.48" stroke="#3a3a3a" stroke-width="0.8"/>
<line x1="118.50" y1="652.29" x2="120.30" y2="652.29" stroke="#3a3a3a" stroke-width="0.8"/>
<line x1="118.50" y1="723.11" x2="120.30" y2="723.11" stroke="#3a3a3a" stroke-width="0.8"/>
<line x1="118.50" y1="715.56" x2="120.30" y2="715.56" stroke="#3a3a3a" stroke-width="0.8"/>
<line x1="118.50" y1="710.21" x2="120.30" y2="710.21" stroke="#3a3a3a" stroke-width="0.8"/>
<line x1="118.50" y1="706.06" x2="120.30" y2="706.06" stroke="#3a3a3a" stroke-width="0.8"/>
<line x1="118.50" y1="702.67" x2="120.30" y2="702.67" stroke="#3a3a3a" stroke-width="0.8"/>
<line x1="118.50" y1="699.80" x2="120.30" y2="699.80" stroke="#3a3a3a" stroke-width="0.8"/>
<line x1="118.50" y1="697.32" x2="120.30" y2="697.32" stroke="#3a3a3a" stroke-width="0.8"/>
<line x1="118.50" y1="695.13" x2="120.30" y2="695.13" stroke="#3a3a3a" stroke-width="0.8"/>
<line x1="117.50" y1="607.50" x2="119.90" y2="607.50" stroke="#444" stroke-width="0.8"/>
<line x1="117.50" y1="650.33" x2="119.90" y2="650.33" stroke="#444" stroke-width="0.8"/>
<line x1="117.50" y1="693.17" x2="119.90" y2="693.17" stroke="#444" stroke-width="0.8"/>
<line x1="117.50" y1="736.00" x2="119.90" y2="736.00" stroke="#444" stroke-width="0.8"/>
<text x="91.40" y="608.90" font-size="10.4" fill="#151515" stroke="#151515" stroke-width="0.2" textLength="20.4" lengthAdjust="spacingAndGlyphs">1x10</text>
<text x="112.80" y="605.10" font-size="8.6" fill="#151515" stroke="#151515" stroke-width="0.2" textLength="4.3" lengthAdjust="spacingAndGlyphs">9</text>
<text x="91.40" y="654.03" font-size="10.4" fill="#151515" stroke="#151515" stroke-width="0.2" textLength="20.4" lengthAdjust="spacingAndGlyphs">1x10</text>
<text x="112.80" y="650.23" font-size="8.6" fill="#151515" stroke="#151515" stroke-width="0.2" textLength="4.3" lengthAdjust="spacingAndGlyphs">8</text>
<text x="91.40" y="696.17" font-size="10.4" fill="#151515" stroke="#151515" stroke-width="0.2" textLength="20.4" lengthAdjust="spacingAndGlyphs">1x10</text>
<text x="112.80" y="692.37" font-size="8.6" fill="#151515" stroke="#151515" stroke-width="0.2" textLength="4.3" lengthAdjust="spacingAndGlyphs">7</text>
<text x="91.40" y="740.30" font-size="10.4" fill="#151515" stroke="#151515" stroke-width="0.2" textLength="20.4" lengthAdjust="spacingAndGlyphs">1x10</text>
<text x="112.80" y="736.50" font-size="8.6" fill="#151515" stroke="#151515" stroke-width="0.2" textLength="4.3" lengthAdjust="spacingAndGlyphs">6</text>
<line x1="132.10" y1="736.00" x2="132.10" y2="738.00" stroke="#555" stroke-width="0.8"/>
<line x1="155.70" y1="736.00" x2="155.70" y2="738.00" stroke="#555" stroke-width="0.8"/>
<text x="118.60" y="746.60" font-size="6.3" fill="#222" stroke="#222" stroke-width="0.15" textLength="22.9" lengthAdjust="spacingAndGlyphs">LBW242</text>
<text x="148.20" y="746.60" font-size="6.3" fill="#222" stroke="#222" stroke-width="0.15" textLength="20.2" lengthAdjust="spacingAndGlyphs">Solvent</text>
<circle cx="132.10" cy="703.00" r="2.3" fill="#000"/>
<circle cx="132.10" cy="715.40" r="2.3" fill="#000"/>
<circle cx="132.10" cy="725.50" r="2.3" fill="#000"/>
<line x1="128.10" y1="712.90" x2="136.20" y2="712.90" stroke="#a0a0a0" stroke-width="1.0"/>
<circle cx="155.70" cy="673.20" r="2.0" fill="none" stroke="#4a4a4a" stroke-width="0.95"/>
<circle cx="155.70" cy="689.30" r="2.0" fill="none" stroke="#4a4a4a" stroke-width="0.95"/>
<circle cx="155.70" cy="696.30" r="2.0" fill="none" stroke="#4a4a4a" stroke-width="0.95"/>
<line x1="151.20" y1="684.40" x2="159.10" y2="684.40" stroke="#a8a8a8" stroke-width="0.9"/>
<path d="M132.10,699.00 L132.10,683.30 L147.40,683.30" stroke="#2a2a2a" stroke-width="1.1" fill="none"/>
<text x="132.60" y="680.60" font-size="9.6" fill="#111" stroke="#111" stroke-width="0.2" textLength="14.1" lengthAdjust="spacingAndGlyphs">4.6</text>
<text x="136.20" y="692.00" font-size="7.2" fill="#222" stroke="#222" stroke-width="0.12" textLength="13.9" lengthAdjust="spacingAndGlyphs">n.s.</text>
<rect x="214.1" y="607.0" width="49.80" height="129.80" fill="none" stroke="#858585" stroke-width="1.15"/>
<line x1="213.60" y1="607.00" x2="264.40" y2="607.00" stroke="#8a8a8a" stroke-width="1.1"/>
<line x1="212.70" y1="652.36" x2="214.50" y2="652.36" stroke="#3a3a3a" stroke-width="0.8"/>
<line x1="212.70" y1="640.93" x2="214.50" y2="640.93" stroke="#3a3a3a" stroke-width="0.8"/>
<line x1="212.70" y1="632.83" x2="214.50" y2="632.83" stroke="#3a3a3a" stroke-width="0.8"/>
<line x1="212.70" y1="626.54" x2="214.50" y2="626.54" stroke="#3a3a3a" stroke-width="0.8"/>
<line x1="212.70" y1="621.40" x2="214.50" y2="621.40" stroke="#3a3a3a" stroke-width="0.8"/>
<line x1="212.70" y1="617.05" x2="214.50" y2="617.05" stroke="#3a3a3a" stroke-width="0.8"/>
<line x1="212.70" y1="613.29" x2="214.50" y2="613.29" stroke="#3a3a3a" stroke-width="0.8"/>
<line x1="212.70" y1="609.97" x2="214.50" y2="609.97" stroke="#3a3a3a" stroke-width="0.8"/>
<line x1="212.70" y1="717.26" x2="214.50" y2="717.26" stroke="#3a3a3a" stroke-width="0.8"/>
<line x1="212.70" y1="705.83" x2="214.50" y2="705.83" stroke="#3a3a3a" stroke-width="0.8"/>
<line x1="212.70" y1="697.73" x2="214.50" y2="697.73" stroke="#3a3a3a" stroke-width="0.8"/>
<line x1="212.70" y1="691.44" x2="214.50" y2="691.44" stroke="#3a3a3a" stroke-width="0.8"/>
<line x1="212.70" y1="686.30" x2="214.50" y2="686.30" stroke="#3a3a3a" stroke-width="0.8"/>
<line x1="212.70" y1="681.95" x2="214.50" y2="681.95" stroke="#3a3a3a" stroke-width="0.8"/>
<line x1="212.70" y1="678.19" x2="214.50" y2="678.19" stroke="#3a3a3a" stroke-width="0.8"/>
<line x1="212.70" y1="674.87" x2="214.50" y2="674.87" stroke="#3a3a3a" stroke-width="0.8"/>
<line x1="211.70" y1="607.00" x2="214.10" y2="607.00" stroke="#444" stroke-width="0.8"/>
<line x1="211.70" y1="671.90" x2="214.10" y2="671.90" stroke="#444" stroke-width="0.8"/>
<line x1="211.70" y1="736.80" x2="214.10" y2="736.80" stroke="#444" stroke-width="0.8"/>
<text x="186.40" y="610.00" font-size="10.4" fill="#151515" stroke="#151515" stroke-width="0.2" textLength="20.4" lengthAdjust="spacingAndGlyphs">1x10</text>
<text x="207.80" y="606.20" font-size="8.6" fill="#151515" stroke="#151515" stroke-width="0.2" textLength="4.3" lengthAdjust="spacingAndGlyphs">8</text>
<text x="186.40" y="673.20" font-size="10.4" fill="#151515" stroke="#151515" stroke-width="0.2" textLength="20.4" lengthAdjust="spacingAndGlyphs">1x10</text>
<text x="207.80" y="669.40" font-size="8.6" fill="#151515" stroke="#151515" stroke-width="0.2" textLength="4.3" lengthAdjust="spacingAndGlyphs">7</text>
<text x="186.40" y="739.30" font-size="10.4" fill="#151515" stroke="#151515" stroke-width="0.2" textLength="20.4" lengthAdjust="spacingAndGlyphs">1x10</text>
<text x="207.80" y="735.50" font-size="8.6" fill="#151515" stroke="#151515" stroke-width="0.2" textLength="4.3" lengthAdjust="spacingAndGlyphs">6</text>
<line x1="227.50" y1="736.80" x2="227.50" y2="738.80" stroke="#555" stroke-width="0.8"/>
<line x1="251.60" y1="736.80" x2="251.60" y2="738.80" stroke="#555" stroke-width="0.8"/>
<text x="214.40" y="746.10" font-size="6.3" fill="#222" stroke="#222" stroke-width="0.15" textLength="48.6" lengthAdjust="spacingAndGlyphs">LBW242 solvent</text>
<circle cx="227.50" cy="688.60" r="2.3" fill="#000"/>
<circle cx="227.50" cy="698.80" r="2.3" fill="#000"/>
<circle cx="227.50" cy="712.10" r="2.3" fill="#000"/>
<circle cx="251.60" cy="634.40" r="2.0" fill="none" stroke="#4a4a4a" stroke-width="0.95"/>
<circle cx="251.60" cy="641.50" r="2.0" fill="none" stroke="#4a4a4a" stroke-width="0.95"/>
<line x1="247.90" y1="639.30" x2="255.60" y2="639.30" stroke="#a8a8a8" stroke-width="0.9"/>
<path d="M228.40,684.00 L228.40,639.50 L243.20,639.50" stroke="#2a2a2a" stroke-width="1.1" fill="none"/>
<text x="231.10" y="635.40" font-size="9.6" fill="#111" stroke="#111" stroke-width="0.2" textLength="13.1" lengthAdjust="spacingAndGlyphs">8.3</text>
<polygon points="232.70,643.05 233.31,644.37 234.74,644.54 233.68,645.52 233.96,646.94 232.70,646.23 231.44,646.94 231.72,645.52 230.66,644.54 232.09,644.37" fill="#111" stroke="#111" stroke-width="0.3"/>
<polygon points="237.50,643.05 238.11,644.37 239.54,644.54 238.48,645.52 238.76,646.94 237.50,646.23 236.24,646.94 236.52,645.52 235.46,644.54 236.89,644.37" fill="#111" stroke="#111" stroke-width="0.3"/>
<polygon points="242.20,643.05 242.81,644.37 244.24,644.54 243.18,645.52 243.46,646.94 242.20,646.23 240.94,646.94 241.22,645.52 240.16,644.54 241.59,644.37" fill="#111" stroke="#111" stroke-width="0.3"/>
<rect x="293.75" y="606.6" width="47.75" height="128.90" fill="none" stroke="#858585" stroke-width="1.15"/>
<line x1="293.25" y1="606.60" x2="342.00" y2="606.60" stroke="#8a8a8a" stroke-width="1.1"/>
<line x1="292.35" y1="651.65" x2="294.15" y2="651.65" stroke="#3a3a3a" stroke-width="0.8"/>
<line x1="292.35" y1="640.30" x2="294.15" y2="640.30" stroke="#3a3a3a" stroke-width="0.8"/>
<line x1="292.35" y1="632.25" x2="294.15" y2="632.25" stroke="#3a3a3a" stroke-width="0.8"/>
<line x1="292.35" y1="626.00" x2="294.15" y2="626.00" stroke="#3a3a3a" stroke-width="0.8"/>
<line x1="292.35" y1="620.90" x2="294.15" y2="620.90" stroke="#3a3a3a" stroke-width="0.8"/>
<line x1="292.35" y1="616.58" x2="294.15" y2="616.58" stroke="#3a3a3a" stroke-width="0.8"/>
<line x1="292.35" y1="612.85" x2="294.15" y2="612.85" stroke="#3a3a3a" stroke-width="0.8"/>
<line x1="292.35" y1="609.55" x2="294.15" y2="609.55" stroke="#3a3a3a" stroke-width="0.8"/>
<line x1="292.35" y1="716.10" x2="294.15" y2="716.10" stroke="#3a3a3a" stroke-width="0.8"/>
<line x1="292.35" y1="704.75" x2="294.15" y2="704.75" stroke="#3a3a3a" stroke-width="0.8"/>
<line x1="292.35" y1="696.70" x2="294.15" y2="696.70" stroke="#3a3a3a" stroke-width="0.8"/>
<line x1="292.35" y1="690.45" x2="294.15" y2="690.45" stroke="#3a3a3a" stroke-width="0.8"/>
<line x1="292.35" y1="685.35" x2="294.15" y2="685.35" stroke="#3a3a3a" stroke-width="0.8"/>
<line x1="292.35" y1="681.03" x2="294.15" y2="681.03" stroke="#3a3a3a" stroke-width="0.8"/>
<line x1="292.35" y1="677.30" x2="294.15" y2="677.30" stroke="#3a3a3a" stroke-width="0.8"/>
<line x1="292.35" y1="674.00" x2="294.15" y2="674.00" stroke="#3a3a3a" stroke-width="0.8"/>
<line x1="291.35" y1="606.60" x2="293.75" y2="606.60" stroke="#444" stroke-width="0.8"/>
<line x1="291.35" y1="671.05" x2="293.75" y2="671.05" stroke="#444" stroke-width="0.8"/>
<line x1="291.35" y1="735.50" x2="293.75" y2="735.50" stroke="#444" stroke-width="0.8"/>
<text x="264.40" y="610.10" font-size="10.4" fill="#151515" stroke="#151515" stroke-width="0.2" textLength="20.4" lengthAdjust="spacingAndGlyphs">1x10</text>
<text x="285.80" y="606.30" font-size="8.6" fill="#151515" stroke="#151515" stroke-width="0.2" textLength="4.3" lengthAdjust="spacingAndGlyphs">7</text>
<text x="264.40" y="672.25" font-size="10.4" fill="#151515" stroke="#151515" stroke-width="0.2" textLength="20.4" lengthAdjust="spacingAndGlyphs">1x10</text>
<text x="285.80" y="668.45" font-size="8.6" fill="#151515" stroke="#151515" stroke-width="0.2" textLength="4.3" lengthAdjust="spacingAndGlyphs">6</text>
<text x="264.40" y="738.30" font-size="10.4" fill="#151515" stroke="#151515" stroke-width="0.2" textLength="20.4" lengthAdjust="spacingAndGlyphs">1x10</text>
<text x="285.80" y="734.50" font-size="8.6" fill="#151515" stroke="#151515" stroke-width="0.2" textLength="4.3" lengthAdjust="spacingAndGlyphs">5</text>
<line x1="305.70" y1="735.50" x2="305.70" y2="737.50" stroke="#555" stroke-width="0.8"/>
<line x1="329.00" y1="735.50" x2="329.00" y2="737.50" stroke="#555" stroke-width="0.8"/>
<text x="294.00" y="746.10" font-size="6.3" fill="#222" stroke="#222" stroke-width="0.15" textLength="45.8" lengthAdjust="spacingAndGlyphs">LBW242 solvent</text>
<circle cx="305.70" cy="687.90" r="2.3" fill="#000"/>
<circle cx="305.70" cy="706.90" r="2.3" fill="#000"/>
<circle cx="305.70" cy="715.70" r="2.3" fill="#000"/>
<line x1="301.70" y1="701.00" x2="310.00" y2="701.00" stroke="#a0a0a0" stroke-width="1.0"/>
<circle cx="329.00" cy="662.40" r="2.0" fill="none" stroke="#4a4a4a" stroke-width="0.95"/>
<circle cx="329.00" cy="679.00" r="2.0" fill="none" stroke="#4a4a4a" stroke-width="0.95"/>
<circle cx="329.00" cy="688.60" r="2.0" fill="none" stroke="#4a4a4a" stroke-width="0.95"/>
<line x1="325.50" y1="674.80" x2="333.80" y2="674.80" stroke="#a8a8a8" stroke-width="0.9"/>
<path d="M307.60,683.10 L307.60,675.20 L322.40,675.20" stroke="#2a2a2a" stroke-width="1.1" fill="none"/>
<text x="307.10" y="672.40" font-size="9.6" fill="#111" stroke="#111" stroke-width="0.2" textLength="15.3" lengthAdjust="spacingAndGlyphs">2.6</text>
<text x="310.00" y="682.60" font-size="7.2" fill="#222" stroke="#222" stroke-width="0.12" textLength="12.4" lengthAdjust="spacingAndGlyphs">n.s.</text>
<text transform="translate(1.40 385.70) scale(0.9 1)" font-size="14.3" font-weight="bold" fill="#0a0a0a" stroke="#0a0a0a" stroke-width="0.15">B</text>
<text x="71.80" y="387.20" font-size="12.6" fill="#0d0d0d" stroke="#0d0d0d" stroke-width="0.32" textLength="59.6" lengthAdjust="spacingAndGlyphs">leucocytes</text>
<line x1="45.80" y1="392.10" x2="162.30" y2="392.10" stroke="#333" stroke-width="1.2"/>
<text x="56.90" y="409.00" font-size="12" fill="#0d0d0d" stroke="#0d0d0d" stroke-width="0.12" textLength="13" lengthAdjust="spacingAndGlyphs">wt</text>
<text x="120.30" y="409.40" font-size="11.1" fill="#0d0d0d" stroke="#0d0d0d" stroke-width="0.3" textLength="23.5" lengthAdjust="spacingAndGlyphs">TNF</text>
<text x="144.80" y="403.70" font-size="8.2" fill="#0d0d0d" stroke="#0d0d0d" stroke-width="0.2" textLength="9.6" lengthAdjust="spacingAndGlyphs">-/-</text>
<text transform="translate(174.00 385.90) scale(0.9 1)" font-size="14.3" font-weight="bold" fill="#0a0a0a" stroke="#0a0a0a" stroke-width="0.15">C</text>
<text x="241.70" y="387.10" font-size="12.6" fill="#0d0d0d" stroke="#0d0d0d" stroke-width="0.32" textLength="22.8" lengthAdjust="spacingAndGlyphs">CD8</text>
<text x="266.20" y="382.60" font-size="9" fill="#0d0d0d" stroke="#0d0d0d" stroke-width="0.3" textLength="5" lengthAdjust="spacingAndGlyphs">+</text>
<text x="276.20" y="387.10" font-size="12.6" fill="#0d0d0d" stroke="#0d0d0d" stroke-width="0.32" textLength="35.6" lengthAdjust="spacingAndGlyphs">T cells</text>
<line x1="219.30" y1="392.30" x2="336.50" y2="392.30" stroke="#333" stroke-width="1.2"/>
<text x="233.00" y="411.30" font-size="12" fill="#0d0d0d" stroke="#0d0d0d" stroke-width="0.12" textLength="13.2" lengthAdjust="spacingAndGlyphs">wt</text>
<text x="301.50" y="409.90" font-size="11.1" fill="#0d0d0d" stroke="#0d0d0d" stroke-width="0.3" textLength="23.8" lengthAdjust="spacingAndGlyphs">TNF</text>
<text x="326.00" y="404.10" font-size="8.2" fill="#0d0d0d" stroke="#0d0d0d" stroke-width="0.2" textLength="9.4" lengthAdjust="spacingAndGlyphs">-/-</text>
<text transform="translate(349.80 385.90) scale(0.9 1)" font-size="14.3" font-weight="bold" fill="#0a0a0a" stroke="#0a0a0a" stroke-width="0.15">D</text>
<text x="407.90" y="389.70" font-size="12.2" fill="#0d0d0d" stroke="#0d0d0d" stroke-width="0.32" textLength="27.7" lengthAdjust="spacingAndGlyphs">GP33</text>
<text x="436.70" y="382.60" font-size="9" fill="#0d0d0d" stroke="#0d0d0d" stroke-width="0.3" textLength="4.8" lengthAdjust="spacingAndGlyphs">+</text>
<text x="445.30" y="389.70" font-size="12.2" fill="#0d0d0d" stroke="#0d0d0d" stroke-width="0.32" textLength="66.2" lengthAdjust="spacingAndGlyphs">CD8 T cells</text>
<line x1="394.10" y1="392.30" x2="516.20" y2="392.30" stroke="#333" stroke-width="1.2"/>
<text x="407.40" y="409.80" font-size="12" fill="#0d0d0d" stroke="#0d0d0d" stroke-width="0.12" textLength="12.6" lengthAdjust="spacingAndGlyphs">wt</text>
<text x="478.50" y="408.90" font-size="11.1" fill="#0d0d0d" stroke="#0d0d0d" stroke-width="0.3" textLength="23.2" lengthAdjust="spacingAndGlyphs">TNF</text>
<text x="502.70" y="403.20" font-size="8.2" fill="#0d0d0d" stroke="#0d0d0d" stroke-width="0.2" textLength="9.6" lengthAdjust="spacingAndGlyphs">-/-</text>
<text transform="translate(1.40 578.70) scale(0.9 1)" font-size="14.3" font-weight="bold" fill="#0a0a0a" stroke="#0a0a0a" stroke-width="0.15">E</text>
<text x="41.60" y="583.60" font-size="12.2" fill="#0d0d0d" stroke="#0d0d0d" stroke-width="0.32" textLength="38.6" lengthAdjust="spacingAndGlyphs">KLRG1</text>
<text x="82.00" y="576.90" font-size="9" fill="#0d0d0d" stroke="#0d0d0d" stroke-width="0.3" textLength="5" lengthAdjust="spacingAndGlyphs">+</text>
<text x="92.10" y="583.60" font-size="12.2" fill="#0d0d0d" stroke="#0d0d0d" stroke-width="0.32" textLength="63.7" lengthAdjust="spacingAndGlyphs">CD8 T cells</text>
<line x1="41.40" y1="586.20" x2="157.00" y2="586.20" stroke="#333" stroke-width="1.2"/>
<text x="58.70" y="603.30" font-size="12" fill="#0d0d0d" stroke="#0d0d0d" stroke-width="0.12" textLength="12.3" lengthAdjust="spacingAndGlyphs">wt</text>
<text x="130.10" y="602.90" font-size="11.1" fill="#0d0d0d" stroke="#0d0d0d" stroke-width="0.3" textLength="22.6" lengthAdjust="spacingAndGlyphs">TNF</text>
<text x="153.70" y="597.10" font-size="8.2" fill="#0d0d0d" stroke="#0d0d0d" stroke-width="0.2" textLength="9.6" lengthAdjust="spacingAndGlyphs">-/-</text>
<text transform="translate(174.00 578.70) scale(0.9 1)" font-size="14.3" font-weight="bold" fill="#0a0a0a" stroke="#0a0a0a" stroke-width="0.15">F</text>
<text x="226.50" y="580.60" font-size="12.2" fill="#0d0d0d" stroke="#0d0d0d" stroke-width="0.32" textLength="18.6" lengthAdjust="spacingAndGlyphs">IFN</text>
<text x="245.30" y="580.60" font-size="10.5" fill="#0d0d0d" stroke="#0d0d0d" stroke-width="0.15" textLength="5.8" lengthAdjust="spacingAndGlyphs">γ</text>
<text x="252.10" y="574.40" font-size="9" fill="#0d0d0d" stroke="#0d0d0d" stroke-width="0.3" textLength="5" lengthAdjust="spacingAndGlyphs">+</text>
<text x="260.70" y="580.60" font-size="12.2" fill="#0d0d0d" stroke="#0d0d0d" stroke-width="0.32" textLength="63.7" lengthAdjust="spacingAndGlyphs">CD8 T cells</text>
<line x1="217.90" y1="586.20" x2="335.20" y2="586.20" stroke="#333" stroke-width="1.2"/>
<text x="229.60" y="604.10" font-size="12" fill="#0d0d0d" stroke="#0d0d0d" stroke-width="0.12" textLength="12.3" lengthAdjust="spacingAndGlyphs">wt</text>
<text x="302.70" y="603.40" font-size="11.1" fill="#0d0d0d" stroke="#0d0d0d" stroke-width="0.3" textLength="23.5" lengthAdjust="spacingAndGlyphs">TNF</text>
<text x="327.20" y="597.60" font-size="8.2" fill="#0d0d0d" stroke="#0d0d0d" stroke-width="0.2" textLength="9.1" lengthAdjust="spacingAndGlyphs">-/-</text>
<text x="9.90" y="533.10" font-size="11" fill="#111" stroke="#111" stroke-width="0.22" textLength="118.2" lengthAdjust="spacingAndGlyphs" transform="rotate(-90 9.90 533.10)">Total leucocytes per spleen</text>
<text x="184.60" y="518.60" font-size="11" fill="#111" stroke="#111" stroke-width="0.22" textLength="84.9" lengthAdjust="spacingAndGlyphs" transform="rotate(-90 184.60 518.60)">Total CD8+ T cells</text>
<text x="358.20" y="530.40" font-size="11" fill="#111" stroke="#111" stroke-width="0.22" textLength="103.7" lengthAdjust="spacingAndGlyphs" transform="rotate(-90 358.20 530.40)">Total GP33+ CD8 T cells</text>
<text x="9.90" y="730.10" font-size="11" fill="#111" stroke="#111" stroke-width="0.22" textLength="117.3" lengthAdjust="spacingAndGlyphs" transform="rotate(-90 9.90 730.10)">Total KLRG1+ CD8 T Cells</text>
<text x="184.50" y="715.40" font-size="11" fill="#111" stroke="#111" stroke-width="0.22" textLength="43.2" lengthAdjust="spacingAndGlyphs" transform="rotate(-90 184.50 715.40)">Total IFNγ</text>
<text x="180.00" y="672.00" font-size="8.5" fill="#111" stroke="#111" stroke-width="0.22" textLength="4.6" lengthAdjust="spacingAndGlyphs" transform="rotate(-90 180.00 672.00)">+</text>
<text x="184.50" y="663.50" font-size="11" fill="#111" stroke="#111" stroke-width="0.22" textLength="51.8" lengthAdjust="spacingAndGlyphs" transform="rotate(-90 184.50 663.50)">CD8 T cells</text>
<text transform="translate(350.40 578.90) scale(0.9 1)" font-size="14.3" font-weight="bold" fill="#0a0a0a" stroke="#0a0a0a" stroke-width="0.15">G</text>
<text x="390.20" y="581.90" font-size="12.5" fill="#111" stroke="#111" stroke-width="0.32" textLength="119.5" lengthAdjust="spacingAndGlyphs">Day 8 LCMV infection</text>
<line x1="390.20" y1="586.50" x2="506.60" y2="586.50" stroke="#333" stroke-width="1.2"/>
<line x1="381.50" y1="735.40" x2="385.20" y2="735.40" stroke="#555" stroke-width="0.8"/>
<text x="376.40" y="737.60" font-size="6.6" fill="#222" stroke="#222" stroke-width="0.12" textLength="3.8" lengthAdjust="spacingAndGlyphs">0</text>
<line x1="385.20" y1="713.50" x2="510.50" y2="713.50" stroke="#8c8c8c" stroke-width="1"/>
<line x1="381.50" y1="713.80" x2="385.20" y2="713.80" stroke="#555" stroke-width="0.8"/>
<text x="372.60" y="716.00" font-size="6.6" fill="#222" stroke="#222" stroke-width="0.12" textLength="7.6" lengthAdjust="spacingAndGlyphs">50</text>
<line x1="385.20" y1="692.50" x2="510.50" y2="692.50" stroke="#8c8c8c" stroke-width="1"/>
<line x1="381.50" y1="692.20" x2="385.20" y2="692.20" stroke="#555" stroke-width="0.8"/>
<text x="368.80" y="694.40" font-size="6.6" fill="#222" stroke="#222" stroke-width="0.12" textLength="11.399999999999999" lengthAdjust="spacingAndGlyphs">100</text>
<line x1="385.20" y1="670.50" x2="510.50" y2="670.50" stroke="#8c8c8c" stroke-width="1"/>
<line x1="381.50" y1="670.60" x2="385.20" y2="670.60" stroke="#555" stroke-width="0.8"/>
<text x="368.80" y="672.80" font-size="6.6" fill="#222" stroke="#222" stroke-width="0.12" textLength="11.399999999999999" lengthAdjust="spacingAndGlyphs">150</text>
<line x1="385.20" y1="649.50" x2="510.50" y2="649.50" stroke="#8c8c8c" stroke-width="1"/>
<line x1="381.50" y1="649.00" x2="385.20" y2="649.00" stroke="#555" stroke-width="0.8"/>
<text x="368.80" y="651.20" font-size="6.6" fill="#222" stroke="#222" stroke-width="0.12" textLength="11.399999999999999" lengthAdjust="spacingAndGlyphs">200</text>
<line x1="385.20" y1="627.50" x2="510.50" y2="627.50" stroke="#8c8c8c" stroke-width="1"/>
<line x1="381.50" y1="627.40" x2="385.20" y2="627.40" stroke="#555" stroke-width="0.8"/>
<text x="368.80" y="629.60" font-size="6.6" fill="#222" stroke="#222" stroke-width="0.12" textLength="11.399999999999999" lengthAdjust="spacingAndGlyphs">250</text>
<line x1="385.20" y1="605.50" x2="510.50" y2="605.50" stroke="#8c8c8c" stroke-width="1"/>
<line x1="381.50" y1="605.80" x2="385.20" y2="605.80" stroke="#555" stroke-width="0.8"/>
<text x="368.80" y="608.00" font-size="6.6" fill="#222" stroke="#222" stroke-width="0.12" textLength="11.399999999999999" lengthAdjust="spacingAndGlyphs">300</text>
<line x1="385.20" y1="605.80" x2="385.20" y2="735.40" stroke="#8a8a8a" stroke-width="1.1"/>
<line x1="385.20" y1="735.40" x2="510.70" y2="735.40" stroke="#555" stroke-width="1"/>
<line x1="385.20" y1="735.40" x2="385.20" y2="737.60" stroke="#555" stroke-width="0.8"/>
<line x1="405.50" y1="735.40" x2="405.50" y2="737.60" stroke="#555" stroke-width="0.8"/>
<line x1="449.20" y1="735.40" x2="449.20" y2="737.60" stroke="#555" stroke-width="0.8"/>
<line x1="493.00" y1="735.40" x2="493.00" y2="737.60" stroke="#555" stroke-width="0.8"/>
<line x1="510.70" y1="735.40" x2="510.70" y2="737.60" stroke="#555" stroke-width="0.8"/>
<text x="399.50" y="745.00" font-size="5.8" fill="#222" stroke="#222" stroke-width="0.12" textLength="10" lengthAdjust="spacingAndGlyphs">Cntl</text>
<text x="440.00" y="745.00" font-size="5.8" fill="#222" stroke="#222" stroke-width="0.12" textLength="18" lengthAdjust="spacingAndGlyphs">Solvent</text>
<text x="482.50" y="745.00" font-size="5.8" fill="#222" stroke="#222" stroke-width="0.12" textLength="19.5" lengthAdjust="spacingAndGlyphs">LBW242</text>
<text x="363.00" y="689.30" font-size="10.6" fill="#111" stroke="#111" stroke-width="0.22" textLength="47.0" lengthAdjust="spacingAndGlyphs" transform="rotate(-90 363.00 689.30)">TNF pg/ml</text>
<rect x="403.7" y="732.7" width="3.8" height="3.8" fill="none" stroke="#222" stroke-width="1.2"/>
<path d="M448.7,713.1 L451.2,715.6 L448.7,718.1 L446.2,715.6 Z" fill="#fff" stroke="#111" stroke-width="1.2"/>
<circle cx="448.7" cy="720.1" r="2.1" fill="#fff" stroke="#111" stroke-width="1.3"/>
<path d="M448.7,724.6 L451.5,727.4 L448.7,730.1999999999999 L445.9,727.4 Z" fill="#666" stroke="#111" stroke-width="1.2"/>
<path d="M448.7,727.0 L451.3,729.6 L448.7,732.2 L446.09999999999997,729.6 Z" fill="#666" stroke="#111" stroke-width="1.2"/>
<line x1="442.30" y1="723.40" x2="455.00" y2="723.40" stroke="#111" stroke-width="1.2"/>
<path d="M494,620.0 L497.4,623.4 L494,626.8 L490.6,623.4 Z" fill="#000" stroke="#000" stroke-width="0.9"/>
<path d="M494,632.9 L497.4,636.3 L494,639.6999999999999 L490.6,636.3 Z" fill="#000" stroke="#000" stroke-width="0.9"/>
<path d="M494,654.6 L497.4,658 L494,661.4 L490.6,658 Z" fill="#000" stroke="#000" stroke-width="0.9"/>
<path d="M494,660.6 L497.4,664 L494,667.4 L490.6,664 Z" fill="#000" stroke="#000" stroke-width="0.9"/>
<path d="M494,678.8000000000001 L497.4,682.2 L494,685.6 L490.6,682.2 Z" fill="#000" stroke="#000" stroke-width="0.9"/>
<line x1="485.70" y1="658.80" x2="502.30" y2="658.80" stroke="#111" stroke-width="1.1"/>
<path d="M448.4,708.5 L448.4,659.8 L478.3,659.8" stroke="#333" stroke-width="1" fill="none"/>
<polygon points="455.70,651.70 456.35,653.11 457.89,653.29 456.75,654.34 457.05,655.86 455.70,655.10 454.35,655.86 454.65,654.34 453.51,653.29 455.05,653.11" fill="#111" stroke="#111" stroke-width="0.3"/>
<polygon points="460.40,651.70 461.05,653.11 462.59,653.29 461.45,654.34 461.75,655.86 460.40,655.10 459.05,655.86 459.35,654.34 458.21,653.29 459.75,653.11" fill="#111" stroke="#111" stroke-width="0.3"/>
<polygon points="465.10,651.70 465.75,653.11 467.29,653.29 466.15,654.34 466.45,655.86 465.10,655.10 463.75,655.86 464.05,654.34 462.91,653.29 464.45,653.11" fill="#111" stroke="#111" stroke-width="0.3"/>
</svg>
</body></html>
